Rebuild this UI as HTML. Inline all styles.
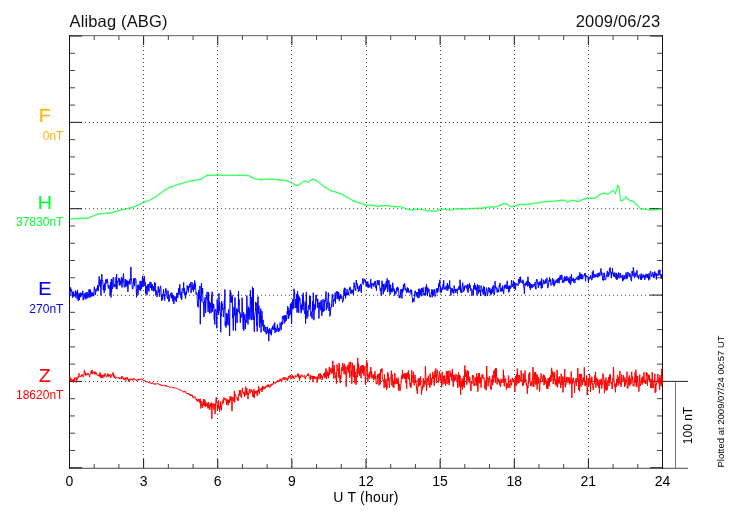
<!DOCTYPE html><html><head><meta charset="utf-8"><title>Alibag (ABG) 2009/06/23</title>
<style>html,body{margin:0;padding:0;background:#fff;}svg{display:block;}text{font-family:"Liberation Sans",Arial,Helvetica,sans-serif;}</style></head><body>
<svg width="730" height="520" viewBox="0 0 730 520">
<rect width="730" height="520" fill="#fff"/>
<g stroke="#444" stroke-width="1" stroke-dasharray="1 3" stroke-dashoffset="0"><line x1="69" y1="122.50" x2="662" y2="122.50"/><line x1="69" y1="208.70" x2="662" y2="208.70"/><line x1="69" y1="295.30" x2="662" y2="295.30"/><line x1="69" y1="381.50" x2="662" y2="381.50"/><line x1="143.50" y1="38" x2="143.50" y2="468"/><line x1="217.50" y1="38" x2="217.50" y2="468"/><line x1="291.50" y1="38" x2="291.50" y2="468"/><line x1="366.50" y1="38" x2="366.50" y2="468"/><line x1="440.50" y1="38" x2="440.50" y2="468"/><line x1="514.50" y1="38" x2="514.50" y2="468"/><line x1="588.50" y1="38" x2="588.50" y2="468"/></g>
<line x1="69" y1="35.5" x2="663" y2="35.5" stroke="#777" stroke-width="1"/>
<line x1="69" y1="36.5" x2="663" y2="36.5" stroke="#e4e4e4" stroke-width="1"/>
<line x1="69" y1="467.5" x2="688" y2="467.5" stroke="#d4d4d4" stroke-width="1"/>
<line x1="69" y1="468.5" x2="688" y2="468.5" stroke="#707070" stroke-width="1"/>
<g stroke="#111" stroke-width="1" fill="none">
<line x1="69.5" y1="35" x2="69.5" y2="469"/>
<line x1="662.5" y1="35" x2="662.5" y2="469"/>
</g>
<g stroke="#444" stroke-width="1"><line x1="94.21" y1="36" x2="94.21" y2="40"/><line x1="94.21" y1="464" x2="94.21" y2="468"/><line x1="118.92" y1="36" x2="118.92" y2="40"/><line x1="118.92" y1="464" x2="118.92" y2="468"/><line x1="168.33" y1="36" x2="168.33" y2="40"/><line x1="168.33" y1="464" x2="168.33" y2="468"/><line x1="193.04" y1="36" x2="193.04" y2="40"/><line x1="193.04" y1="464" x2="193.04" y2="468"/><line x1="242.46" y1="36" x2="242.46" y2="40"/><line x1="242.46" y1="464" x2="242.46" y2="468"/><line x1="267.17" y1="36" x2="267.17" y2="40"/><line x1="267.17" y1="464" x2="267.17" y2="468"/><line x1="316.58" y1="36" x2="316.58" y2="40"/><line x1="316.58" y1="464" x2="316.58" y2="468"/><line x1="341.29" y1="36" x2="341.29" y2="40"/><line x1="341.29" y1="464" x2="341.29" y2="468"/><line x1="390.71" y1="36" x2="390.71" y2="40"/><line x1="390.71" y1="464" x2="390.71" y2="468"/><line x1="415.42" y1="36" x2="415.42" y2="40"/><line x1="415.42" y1="464" x2="415.42" y2="468"/><line x1="464.83" y1="36" x2="464.83" y2="40"/><line x1="464.83" y1="464" x2="464.83" y2="468"/><line x1="489.54" y1="36" x2="489.54" y2="40"/><line x1="489.54" y1="464" x2="489.54" y2="468"/><line x1="538.96" y1="36" x2="538.96" y2="40"/><line x1="538.96" y1="464" x2="538.96" y2="468"/><line x1="563.67" y1="36" x2="563.67" y2="40"/><line x1="563.67" y1="464" x2="563.67" y2="468"/><line x1="613.08" y1="36" x2="613.08" y2="40"/><line x1="613.08" y1="464" x2="613.08" y2="468"/><line x1="637.79" y1="36" x2="637.79" y2="40"/><line x1="637.79" y1="464" x2="637.79" y2="468"/><line x1="70" y1="53.27" x2="75" y2="53.27"/><line x1="657" y1="53.27" x2="662" y2="53.27"/><line x1="70" y1="70.54" x2="75" y2="70.54"/><line x1="657" y1="70.54" x2="662" y2="70.54"/><line x1="70" y1="87.81" x2="75" y2="87.81"/><line x1="657" y1="87.81" x2="662" y2="87.81"/><line x1="70" y1="105.08" x2="75" y2="105.08"/><line x1="657" y1="105.08" x2="662" y2="105.08"/><line x1="70" y1="139.62" x2="75" y2="139.62"/><line x1="657" y1="139.62" x2="662" y2="139.62"/><line x1="70" y1="156.89" x2="75" y2="156.89"/><line x1="657" y1="156.89" x2="662" y2="156.89"/><line x1="70" y1="174.16" x2="75" y2="174.16"/><line x1="657" y1="174.16" x2="662" y2="174.16"/><line x1="70" y1="191.43" x2="75" y2="191.43"/><line x1="657" y1="191.43" x2="662" y2="191.43"/><line x1="70" y1="225.97" x2="75" y2="225.97"/><line x1="657" y1="225.97" x2="662" y2="225.97"/><line x1="70" y1="243.24" x2="75" y2="243.24"/><line x1="657" y1="243.24" x2="662" y2="243.24"/><line x1="70" y1="260.51" x2="75" y2="260.51"/><line x1="657" y1="260.51" x2="662" y2="260.51"/><line x1="70" y1="277.78" x2="75" y2="277.78"/><line x1="657" y1="277.78" x2="662" y2="277.78"/><line x1="70" y1="312.32" x2="75" y2="312.32"/><line x1="657" y1="312.32" x2="662" y2="312.32"/><line x1="70" y1="329.59" x2="75" y2="329.59"/><line x1="657" y1="329.59" x2="662" y2="329.59"/><line x1="70" y1="346.86" x2="75" y2="346.86"/><line x1="657" y1="346.86" x2="662" y2="346.86"/><line x1="70" y1="364.13" x2="75" y2="364.13"/><line x1="657" y1="364.13" x2="662" y2="364.13"/><line x1="70" y1="398.67" x2="75" y2="398.67"/><line x1="657" y1="398.67" x2="662" y2="398.67"/><line x1="70" y1="415.94" x2="75" y2="415.94"/><line x1="657" y1="415.94" x2="662" y2="415.94"/><line x1="70" y1="433.21" x2="75" y2="433.21"/><line x1="657" y1="433.21" x2="662" y2="433.21"/><line x1="70" y1="450.48" x2="75" y2="450.48"/><line x1="657" y1="450.48" x2="662" y2="450.48"/></g>
<g stroke="#1a1a1a" stroke-width="1"><line x1="143.62" y1="36" x2="143.62" y2="45"/><line x1="143.62" y1="459" x2="143.62" y2="468"/><line x1="217.75" y1="36" x2="217.75" y2="45"/><line x1="217.75" y1="459" x2="217.75" y2="468"/><line x1="291.88" y1="36" x2="291.88" y2="45"/><line x1="291.88" y1="459" x2="291.88" y2="468"/><line x1="366.00" y1="36" x2="366.00" y2="45"/><line x1="366.00" y1="459" x2="366.00" y2="468"/><line x1="440.12" y1="36" x2="440.12" y2="45"/><line x1="440.12" y1="459" x2="440.12" y2="468"/><line x1="514.25" y1="36" x2="514.25" y2="45"/><line x1="514.25" y1="459" x2="514.25" y2="468"/><line x1="588.38" y1="36" x2="588.38" y2="45"/><line x1="588.38" y1="459" x2="588.38" y2="468"/><line x1="70" y1="36.00" x2="82" y2="36.00"/><line x1="650" y1="36.00" x2="662" y2="36.00"/><line x1="70" y1="122.35" x2="82" y2="122.35"/><line x1="650" y1="122.35" x2="662" y2="122.35"/><line x1="70" y1="208.70" x2="82" y2="208.70"/><line x1="650" y1="208.70" x2="662" y2="208.70"/><line x1="70" y1="295.05" x2="82" y2="295.05"/><line x1="650" y1="295.05" x2="662" y2="295.05"/><line x1="70" y1="381.40" x2="82" y2="381.40"/><line x1="650" y1="381.40" x2="662" y2="381.40"/><line x1="70" y1="467.75" x2="82" y2="467.75"/><line x1="650" y1="467.75" x2="662" y2="467.75"/></g>
<line x1="663" y1="381.4" x2="688" y2="381.4" stroke="#222" stroke-width="1"/>
<line x1="675.5" y1="381.5" x2="675.5" y2="468" stroke="#777" stroke-width="1"/>
<polyline fill="none" stroke="#00ff30" stroke-opacity="0.75" stroke-width="1.25" stroke-linejoin="round" points="69.50,218.90 69.80,218.94 70.09,218.84 70.39,218.74 70.69,218.79 70.98,218.70 71.28,218.85 71.58,219.03 71.87,218.75 72.17,218.72 72.47,218.88 72.76,218.85 73.06,218.80 73.36,218.63 73.65,218.76 73.95,218.86 74.24,218.54 74.54,218.67 74.84,218.44 75.13,218.52 75.43,218.43 75.73,218.66 76.02,218.50 76.32,218.72 76.62,218.69 76.91,218.63 77.21,218.27 77.51,218.56 77.80,218.62 78.10,218.64 78.40,218.38 78.69,218.53 78.99,218.43 79.29,218.44 79.58,218.70 79.88,218.40 80.18,218.50 80.47,218.61 80.77,218.37 81.07,218.43 81.36,218.44 81.66,218.41 81.96,218.20 82.25,218.37 82.55,218.55 82.84,218.09 83.14,218.43 83.44,218.30 83.73,218.17 84.03,218.54 84.33,218.34 84.62,218.03 84.92,218.20 85.22,218.25 85.51,218.12 85.81,218.23 86.11,218.10 86.40,218.19 86.70,218.28 87.00,217.95 87.29,218.06 87.59,217.94 87.89,218.01 88.18,217.79 88.48,217.86 88.78,217.90 89.07,218.04 89.37,217.97 89.67,217.42 89.96,217.32 90.26,217.35 90.55,216.77 90.85,216.82 91.15,216.73 91.44,216.81 91.74,216.61 92.04,216.34 92.33,216.21 92.63,216.11 92.93,216.26 93.22,215.85 93.52,215.75 93.82,215.73 94.11,215.54 94.41,215.41 94.71,215.15 95.00,215.20 95.30,215.01 95.60,215.14 95.89,214.94 96.19,214.72 96.49,214.71 96.78,214.49 97.08,214.64 97.38,214.42 97.67,214.44 97.97,214.10 98.27,214.28 98.56,213.92 98.86,213.80 99.15,214.00 99.45,213.85 99.75,213.95 100.04,214.20 100.34,213.68 100.64,213.64 100.93,213.71 101.23,213.69 101.53,213.56 101.82,213.54 102.12,213.66 102.42,213.62 102.71,213.37 103.01,213.50 103.31,213.50 103.60,213.32 103.90,213.50 104.20,213.32 104.49,213.58 104.79,213.44 105.09,213.41 105.38,213.29 105.68,213.35 105.98,213.05 106.27,213.17 106.57,213.37 106.87,212.98 107.16,213.41 107.46,213.01 107.75,213.37 108.05,213.11 108.35,213.34 108.64,213.23 108.94,212.94 109.24,213.30 109.53,213.27 109.83,212.99 110.13,212.90 110.42,212.86 110.72,212.68 111.02,212.93 111.31,212.63 111.61,212.64 111.91,212.47 112.20,212.44 112.50,212.29 112.80,212.61 113.09,212.32 113.39,212.39 113.69,212.15 113.98,211.95 114.28,211.91 114.58,211.78 114.87,211.77 115.17,211.62 115.46,211.54 115.76,211.28 116.06,211.27 116.35,211.55 116.65,211.10 116.95,210.95 117.24,211.07 117.54,211.13 117.84,210.61 118.13,210.70 118.43,210.54 118.73,210.28 119.02,210.56 119.32,210.35 119.62,210.27 119.91,210.06 120.21,210.19 120.51,209.98 120.80,209.98 121.10,209.77 121.40,209.70 121.69,210.02 121.99,209.69 122.29,209.75 122.58,209.64 122.88,209.52 123.18,209.45 123.47,209.56 123.77,209.36 124.06,209.32 124.36,209.29 124.66,209.40 124.95,209.27 125.25,209.17 125.55,208.96 125.84,208.76 126.14,209.04 126.44,208.98 126.73,208.74 127.03,208.77 127.33,208.74 127.62,208.68 127.92,208.62 128.22,208.35 128.51,208.57 128.81,208.09 129.11,208.33 129.40,208.21 129.70,208.20 130.00,208.28 130.29,208.15 130.59,207.68 130.89,207.53 131.18,207.84 131.48,207.49 131.78,207.57 132.07,207.63 132.37,207.15 132.66,206.97 132.96,207.21 133.26,207.06 133.55,206.91 133.85,206.84 134.15,206.59 134.44,206.38 134.74,206.47 135.04,206.23 135.33,206.02 135.63,206.23 135.93,206.03 136.22,205.99 136.52,205.66 136.82,205.60 137.11,205.44 137.41,205.34 137.71,205.37 138.00,205.06 138.30,205.07 138.60,204.91 138.89,205.00 139.19,204.32 139.49,204.50 139.78,204.20 140.08,204.05 140.38,203.67 140.67,203.66 140.97,203.67 141.26,203.39 141.56,203.25 141.86,203.03 142.15,203.09 142.45,202.75 142.75,202.26 143.04,202.33 143.34,202.04 143.64,201.77 143.93,202.10 144.23,202.30 144.53,202.02 144.82,201.76 145.12,201.72 145.42,201.95 145.71,201.72 146.01,201.63 146.31,201.53 146.60,201.47 146.90,201.50 147.20,201.38 147.49,201.19 147.79,200.85 148.09,200.94 148.38,200.62 148.68,200.74 148.97,200.24 149.27,200.26 149.57,200.14 149.86,199.79 150.16,200.10 150.46,199.92 150.75,199.49 151.05,199.53 151.35,199.32 151.64,198.73 151.94,199.01 152.24,198.82 152.53,198.69 152.83,198.35 153.13,198.27 153.42,198.08 153.72,198.09 154.02,197.76 154.31,197.51 154.61,197.54 154.91,197.02 155.20,196.85 155.50,196.43 155.80,196.74 156.09,196.45 156.39,196.24 156.69,196.00 156.98,195.72 157.28,195.54 157.57,195.26 157.87,195.07 158.17,194.91 158.46,194.93 158.76,194.58 159.06,194.29 159.35,194.01 159.65,193.80 159.95,193.92 160.24,193.54 160.54,193.26 160.84,192.99 161.13,192.66 161.43,192.61 161.73,192.54 162.02,192.13 162.32,191.95 162.62,191.73 162.91,191.57 163.21,191.10 163.51,191.09 163.80,190.79 164.10,190.84 164.40,190.38 164.69,190.37 164.99,190.30 165.29,189.81 165.58,189.57 165.88,189.54 166.17,189.36 166.47,189.06 166.77,189.12 167.06,189.21 167.36,188.71 167.66,188.57 167.95,188.29 168.25,188.35 168.55,187.96 168.84,187.83 169.14,188.04 169.44,187.56 169.73,187.71 170.03,187.62 170.33,187.28 170.62,187.17 170.92,187.23 171.22,186.80 171.51,186.64 171.81,186.42 172.11,186.53 172.40,186.65 172.70,186.47 173.00,186.08 173.29,186.00 173.59,185.95 173.88,185.97 174.18,185.79 174.48,185.76 174.77,185.67 175.07,185.48 175.37,185.42 175.66,185.35 175.96,185.21 176.26,185.20 176.55,185.30 176.85,185.01 177.15,184.83 177.44,184.47 177.74,184.68 178.04,184.24 178.33,184.23 178.63,184.48 178.93,184.36 179.22,184.14 179.52,183.82 179.82,183.93 180.11,183.79 180.41,183.90 180.71,184.05 181.00,183.66 181.30,183.42 181.60,183.27 181.89,183.35 182.19,183.24 182.48,183.00 182.78,183.10 183.08,182.82 183.37,183.07 183.67,182.97 183.97,182.89 184.26,182.56 184.56,182.62 184.86,182.44 185.15,182.33 185.45,182.26 185.75,182.04 186.04,181.95 186.34,182.21 186.64,181.99 186.93,181.97 187.23,182.02 187.53,181.53 187.82,181.60 188.12,181.67 188.42,181.63 188.71,181.44 189.01,181.58 189.31,181.38 189.60,181.09 189.90,181.06 190.20,181.25 190.49,181.12 190.79,180.69 191.08,181.11 191.38,180.92 191.68,180.98 191.97,180.68 192.27,180.66 192.57,180.50 192.86,181.01 193.16,180.56 193.46,180.79 193.75,180.42 194.05,180.50 194.35,180.19 194.64,180.34 194.94,180.51 195.24,180.14 195.53,180.45 195.83,180.30 196.13,180.05 196.42,180.10 196.72,180.07 197.02,180.09 197.31,179.94 197.61,179.83 197.91,179.83 198.20,179.65 198.50,179.54 198.80,179.65 199.09,179.72 199.39,179.29 199.68,179.45 199.98,179.28 200.28,179.15 200.57,179.36 200.87,179.08 201.17,179.28 201.46,178.74 201.76,178.72 202.06,178.43 202.35,178.15 202.65,178.15 202.95,177.85 203.24,177.76 203.54,177.47 203.84,177.12 204.13,177.10 204.43,176.97 204.73,176.94 205.02,176.50 205.32,176.47 205.62,176.06 205.91,176.25 206.21,175.83 206.51,175.56 206.80,175.66 207.10,175.68 207.39,175.17 207.69,175.23 207.99,175.27 208.28,175.20 208.58,175.42 208.88,175.23 209.17,175.24 209.47,175.42 209.77,175.21 210.06,175.38 210.36,175.16 210.66,175.12 210.95,175.02 211.25,175.56 211.55,175.23 211.84,175.30 212.14,175.25 212.44,175.27 212.73,175.25 213.03,175.52 213.33,175.07 213.62,174.98 213.92,175.05 214.22,175.00 214.51,175.30 214.81,175.30 215.11,175.03 215.40,174.95 215.70,175.10 215.99,175.35 216.29,174.71 216.59,175.21 216.88,174.96 217.18,175.27 217.48,174.94 217.77,175.07 218.07,174.89 218.37,174.98 218.66,175.35 218.96,175.28 219.26,175.10 219.55,175.04 219.85,174.90 220.15,175.14 220.44,175.20 220.74,175.20 221.04,175.21 221.33,175.07 221.63,175.24 221.93,175.25 222.22,175.46 222.52,175.56 222.82,175.27 223.11,175.19 223.41,175.30 223.71,175.23 224.00,175.22 224.30,175.34 224.59,175.20 224.89,175.46 225.19,175.36 225.48,175.43 225.78,175.37 226.08,175.29 226.37,175.26 226.67,175.36 226.97,175.32 227.26,175.44 227.56,175.40 227.86,175.20 228.15,175.41 228.45,175.20 228.75,175.31 229.04,175.36 229.34,175.09 229.64,175.41 229.93,175.42 230.23,175.38 230.53,175.34 230.82,175.34 231.12,175.25 231.42,175.36 231.71,175.31 232.01,175.41 232.31,175.21 232.60,175.42 232.90,175.41 233.19,175.36 233.49,175.31 233.79,175.46 234.08,175.12 234.38,175.44 234.68,175.40 234.97,175.41 235.27,175.42 235.57,175.26 235.86,175.32 236.16,175.45 236.46,175.42 236.75,175.38 237.05,175.12 237.35,175.42 237.64,175.52 237.94,175.49 238.24,175.37 238.53,175.10 238.83,175.47 239.13,175.31 239.42,174.95 239.72,175.38 240.02,175.10 240.31,175.12 240.61,175.22 240.90,175.50 241.20,175.25 241.50,175.35 241.79,175.57 242.09,175.54 242.39,175.29 242.68,175.27 242.98,175.13 243.28,175.22 243.57,175.39 243.87,175.39 244.17,175.35 244.46,175.49 244.76,175.23 245.06,175.34 245.35,175.47 245.65,175.45 245.95,175.53 246.24,175.43 246.54,175.33 246.84,175.44 247.13,175.24 247.43,175.15 247.73,175.50 248.02,175.54 248.32,175.74 248.62,175.58 248.91,175.92 249.21,176.02 249.50,176.12 249.80,176.06 250.10,176.48 250.39,176.81 250.69,176.87 250.99,176.86 251.28,177.09 251.58,177.35 251.88,176.96 252.17,177.50 252.47,177.74 252.77,177.90 253.06,178.19 253.36,178.21 253.66,178.17 253.95,178.25 254.25,178.40 254.55,178.28 254.84,178.43 255.14,178.66 255.44,178.89 255.73,178.66 256.03,178.75 256.33,178.87 256.62,179.12 256.92,178.99 257.22,179.30 257.51,179.00 257.81,179.18 258.10,179.25 258.40,179.46 258.70,179.56 258.99,179.24 259.29,179.40 259.59,179.65 259.88,179.57 260.18,179.50 260.48,179.95 260.77,179.84 261.07,179.80 261.37,179.62 261.66,179.81 261.96,179.58 262.26,179.74 262.55,179.40 262.85,179.37 263.15,179.49 263.44,179.32 263.74,179.49 264.04,179.39 264.33,179.17 264.63,179.29 264.93,179.18 265.22,179.34 265.52,179.07 265.81,179.06 266.11,179.28 266.41,179.44 266.70,179.41 267.00,179.12 267.30,179.15 267.59,179.35 267.89,179.10 268.19,178.98 268.48,179.15 268.78,179.20 269.08,179.01 269.37,178.89 269.67,178.93 269.97,179.25 270.26,179.04 270.56,179.13 270.86,179.19 271.15,179.26 271.45,179.12 271.75,179.24 272.04,179.04 272.34,179.12 272.64,179.03 272.93,179.35 273.23,179.18 273.53,179.08 273.82,179.14 274.12,179.17 274.41,179.33 274.71,179.02 275.01,179.14 275.30,179.27 275.60,179.74 275.90,179.54 276.19,179.41 276.49,179.57 276.79,179.81 277.08,179.50 277.38,179.51 277.68,179.78 277.97,179.71 278.27,179.77 278.57,179.62 278.86,180.02 279.16,180.02 279.46,179.89 279.75,179.94 280.05,179.57 280.35,180.00 280.64,179.91 280.94,180.04 281.24,180.11 281.53,179.99 281.83,179.82 282.13,180.16 282.42,180.03 282.72,180.13 283.01,180.12 283.31,180.19 283.61,179.93 283.90,180.51 284.20,180.43 284.50,180.63 284.79,180.82 285.09,180.60 285.39,180.39 285.68,180.60 285.98,180.62 286.28,180.79 286.57,180.95 286.87,180.70 287.17,181.12 287.46,180.91 287.76,181.25 288.06,181.26 288.35,181.30 288.65,181.41 288.95,181.44 289.24,181.54 289.54,181.48 289.84,181.83 290.13,182.22 290.43,182.35 290.73,182.35 291.02,182.37 291.32,182.26 291.61,182.69 291.91,182.65 292.21,182.87 292.50,183.06 292.80,183.35 293.10,183.49 293.39,183.77 293.69,183.84 293.99,184.17 294.28,184.80 294.58,184.67 294.88,184.87 295.17,185.21 295.47,185.41 295.77,185.13 296.06,185.27 296.36,185.44 296.66,185.34 296.95,185.32 297.25,185.53 297.55,185.20 297.84,185.31 298.14,185.22 298.44,185.52 298.73,185.01 299.03,185.00 299.32,184.77 299.62,184.70 299.92,184.44 300.21,184.30 300.51,183.60 300.81,183.70 301.10,183.29 301.40,182.98 301.70,182.91 301.99,182.43 302.29,182.01 302.59,182.01 302.88,181.59 303.18,181.46 303.48,181.36 303.77,181.25 304.07,181.44 304.37,181.17 304.66,180.97 304.96,181.09 305.26,181.06 305.55,181.02 305.85,181.27 306.15,181.10 306.44,180.90 306.74,181.30 307.04,181.18 307.33,181.49 307.63,181.74 307.92,182.12 308.22,182.33 308.52,182.54 308.81,182.06 309.11,181.70 309.41,181.34 309.70,180.70 310.00,180.67 310.30,180.51 310.59,180.43 310.89,180.05 311.19,180.35 311.48,179.97 311.78,179.63 312.08,179.41 312.37,179.47 312.67,179.35 312.97,179.11 313.26,179.14 313.56,179.16 313.86,179.46 314.15,179.40 314.45,179.63 314.75,179.91 315.04,180.28 315.34,179.87 315.64,180.07 315.93,180.14 316.23,180.59 316.52,180.52 316.82,180.84 317.12,181.13 317.41,181.21 317.71,181.44 318.01,181.73 318.30,181.71 318.60,182.03 318.90,182.41 319.19,182.72 319.49,182.89 319.79,182.87 320.08,183.29 320.38,183.70 320.68,183.89 320.97,184.02 321.27,184.12 321.57,184.58 321.86,184.62 322.16,184.76 322.46,185.04 322.75,185.60 323.05,185.64 323.35,186.01 323.64,185.99 323.94,186.42 324.23,186.42 324.53,186.71 324.83,187.33 325.12,187.30 325.42,187.33 325.72,187.62 326.01,187.91 326.31,188.24 326.61,188.15 326.90,188.12 327.20,188.50 327.50,188.71 327.79,188.89 328.09,189.23 328.39,189.24 328.68,189.48 328.98,189.35 329.28,189.81 329.57,190.15 329.87,190.12 330.17,190.20 330.46,190.35 330.76,190.75 331.06,190.51 331.35,190.79 331.65,191.04 331.95,191.17 332.24,191.07 332.54,191.26 332.83,191.25 333.13,191.38 333.43,191.42 333.72,191.34 334.02,191.59 334.32,191.80 334.61,191.60 334.91,191.78 335.21,191.99 335.50,191.81 335.80,192.07 336.10,191.96 336.39,192.36 336.69,192.62 336.99,192.65 337.28,192.39 337.58,192.64 337.88,192.64 338.17,192.74 338.47,193.06 338.77,192.72 339.06,193.18 339.36,193.11 339.66,193.43 339.95,193.35 340.25,193.32 340.55,193.56 340.84,193.72 341.14,193.72 341.43,193.88 341.73,193.83 342.03,193.70 342.32,194.34 342.62,194.50 342.92,194.60 343.21,194.77 343.51,195.11 343.81,195.07 344.10,195.22 344.40,195.48 344.70,195.87 344.99,195.67 345.29,196.25 345.59,196.16 345.88,196.28 346.18,196.82 346.48,196.80 346.77,196.81 347.07,197.13 347.37,197.51 347.66,197.74 347.96,197.68 348.26,197.99 348.55,198.19 348.85,198.14 349.15,198.45 349.44,198.55 349.74,198.63 350.03,198.79 350.33,199.03 350.63,199.18 350.92,199.25 351.22,199.42 351.52,199.81 351.81,199.83 352.11,200.09 352.41,200.29 352.70,200.35 353.00,200.76 353.30,200.45 353.59,200.86 353.89,200.84 354.19,201.31 354.48,201.39 354.78,200.95 355.08,201.21 355.37,201.56 355.67,201.69 355.97,201.79 356.26,201.78 356.56,201.96 356.86,202.10 357.15,202.10 357.45,202.37 357.74,201.99 358.04,202.53 358.34,202.39 358.63,202.79 358.93,202.72 359.23,202.73 359.52,203.03 359.82,202.93 360.12,203.02 360.41,203.02 360.71,203.34 361.01,203.51 361.30,203.68 361.60,203.60 361.90,203.87 362.19,203.80 362.49,203.88 362.79,204.07 363.08,204.23 363.38,204.12 363.68,204.22 363.97,204.33 364.27,204.45 364.57,204.40 364.86,204.78 365.16,204.66 365.46,204.88 365.75,204.78 366.05,205.05 366.34,205.14 366.64,205.05 366.94,205.43 367.23,205.20 367.53,205.43 367.83,205.32 368.12,205.09 368.42,205.15 368.72,205.29 369.01,205.25 369.31,205.26 369.61,205.23 369.90,205.01 370.20,205.27 370.50,204.98 370.79,205.39 371.09,205.24 371.39,205.26 371.68,205.35 371.98,205.43 372.28,205.19 372.57,205.16 372.87,205.28 373.17,205.15 373.46,205.33 373.76,205.73 374.06,205.36 374.35,205.70 374.65,205.48 374.94,205.82 375.24,205.82 375.54,205.94 375.83,206.12 376.13,206.39 376.43,206.24 376.72,206.32 377.02,206.24 377.32,206.56 377.61,206.52 377.91,206.77 378.21,206.65 378.50,206.78 378.80,206.09 379.10,206.21 379.39,206.25 379.69,205.93 379.99,205.73 380.28,205.76 380.58,205.59 380.88,205.82 381.17,206.17 381.47,205.97 381.77,205.63 382.06,205.67 382.36,205.74 382.65,205.95 382.95,205.68 383.25,205.70 383.54,205.93 383.84,205.93 384.14,205.74 384.43,205.63 384.73,205.57 385.03,205.70 385.32,205.47 385.62,205.91 385.92,205.71 386.21,205.87 386.51,206.08 386.81,205.98 387.10,205.63 387.40,205.93 387.70,205.97 387.99,205.69 388.29,205.66 388.59,205.78 388.88,205.56 389.18,206.02 389.48,205.44 389.77,205.66 390.07,205.92 390.37,206.05 390.66,206.24 390.96,206.38 391.25,206.43 391.55,206.76 391.85,206.38 392.14,206.70 392.44,206.59 392.74,206.72 393.03,206.73 393.33,206.56 393.63,206.60 393.92,206.82 394.22,206.75 394.52,206.60 394.81,207.01 395.11,207.05 395.41,206.48 395.70,206.75 396.00,207.08 396.30,206.82 396.59,206.73 396.89,206.67 397.19,206.62 397.48,206.67 397.78,206.62 398.08,206.81 398.37,206.64 398.67,206.63 398.97,206.52 399.26,206.69 399.56,206.57 399.85,206.67 400.15,206.86 400.45,206.75 400.74,206.78 401.04,206.75 401.34,206.71 401.63,206.79 401.93,206.91 402.23,207.21 402.52,207.08 402.82,207.58 403.12,207.53 403.41,207.55 403.71,207.73 404.01,207.85 404.30,208.12 404.60,208.13 404.90,208.55 405.19,208.40 405.49,208.32 405.79,208.69 406.08,208.64 406.38,209.03 406.68,209.25 406.97,209.24 407.27,209.00 407.57,209.14 407.86,209.58 408.16,209.41 408.45,209.42 408.75,209.64 409.05,209.90 409.34,209.78 409.64,209.67 409.94,209.75 410.23,209.85 410.53,209.72 410.83,209.71 411.12,209.89 411.42,209.70 411.72,209.79 412.01,209.77 412.31,210.06 412.61,209.54 412.90,209.60 413.20,209.55 413.50,209.60 413.79,209.65 414.09,209.38 414.39,209.28 414.68,209.12 414.98,209.18 415.28,209.36 415.57,209.24 415.87,209.05 416.16,209.17 416.46,209.24 416.76,209.33 417.05,209.18 417.35,209.25 417.65,209.04 417.94,209.15 418.24,209.59 418.54,209.03 418.83,209.33 419.13,209.43 419.43,209.36 419.72,209.31 420.02,209.44 420.32,209.46 420.61,209.47 420.91,209.22 421.21,209.50 421.50,209.41 421.80,209.47 422.10,209.60 422.39,209.68 422.69,209.75 422.99,209.61 423.28,209.89 423.58,210.00 423.88,210.06 424.17,210.16 424.47,210.00 424.76,210.06 425.06,210.28 425.36,210.02 425.65,210.32 425.95,210.28 426.25,210.37 426.54,210.23 426.84,210.42 427.14,210.62 427.43,210.82 427.73,210.91 428.03,210.81 428.32,210.86 428.62,210.83 428.92,211.06 429.21,210.97 429.51,211.11 429.81,211.29 430.10,211.03 430.40,210.82 430.70,210.92 430.99,210.84 431.29,210.89 431.59,211.27 431.88,211.12 432.18,210.86 432.48,211.20 432.77,211.29 433.07,211.06 433.36,211.02 433.66,211.08 433.96,211.18 434.25,211.24 434.55,211.33 434.85,211.34 435.14,211.35 435.44,211.38 435.74,211.28 436.03,210.96 436.33,211.17 436.63,211.08 436.92,210.83 437.22,210.88 437.52,210.54 437.81,210.30 438.11,210.51 438.41,210.25 438.70,210.03 439.00,209.99 439.30,209.86 439.59,209.61 439.89,209.12 440.19,209.38 440.48,209.39 440.78,209.30 441.07,209.46 441.37,209.60 441.67,209.33 441.96,209.22 442.26,209.68 442.56,209.29 442.85,209.16 443.15,209.37 443.45,209.38 443.74,209.20 444.04,209.41 444.34,209.20 444.63,209.12 444.93,209.27 445.23,209.35 445.52,209.12 445.82,209.25 446.12,209.24 446.41,209.74 446.71,209.28 447.01,209.66 447.30,209.52 447.60,209.57 447.90,209.77 448.19,209.86 448.49,209.99 448.79,209.92 449.08,209.84 449.38,209.92 449.67,210.15 449.97,210.14 450.27,210.18 450.56,209.96 450.86,209.97 451.16,209.96 451.45,209.68 451.75,209.35 452.05,209.31 452.34,209.20 452.64,209.57 452.94,209.12 453.23,209.35 453.53,209.18 453.83,209.27 454.12,209.08 454.42,208.83 454.72,208.77 455.01,208.82 455.31,208.84 455.61,208.74 455.90,208.82 456.20,209.07 456.50,208.58 456.79,208.87 457.09,208.70 457.39,208.87 457.68,208.98 457.98,208.85 458.27,208.98 458.57,208.63 458.87,209.04 459.16,208.78 459.46,208.97 459.76,208.91 460.05,208.50 460.35,208.78 460.65,208.93 460.94,209.14 461.24,208.95 461.54,208.95 461.83,208.71 462.13,209.14 462.43,209.20 462.72,208.94 463.02,208.90 463.32,208.70 463.61,209.08 463.91,209.36 464.21,209.06 464.50,209.15 464.80,209.05 465.10,208.82 465.39,209.18 465.69,208.80 465.99,208.95 466.28,209.03 466.58,209.13 466.87,209.06 467.17,209.03 467.47,208.83 467.76,208.73 468.06,208.90 468.36,208.76 468.65,208.64 468.95,208.62 469.25,208.71 469.54,208.48 469.84,208.53 470.14,208.46 470.43,208.71 470.73,208.71 471.03,208.93 471.32,208.37 471.62,208.47 471.92,208.68 472.21,208.48 472.51,208.45 472.81,208.74 473.10,208.43 473.40,208.30 473.70,208.26 473.99,208.50 474.29,208.49 474.58,208.23 474.88,208.27 475.18,208.49 475.47,208.49 475.77,208.30 476.07,208.48 476.36,208.46 476.66,208.10 476.96,208.31 477.25,208.41 477.55,208.25 477.85,208.01 478.14,208.28 478.44,208.42 478.74,208.54 479.03,207.96 479.33,208.68 479.63,208.11 479.92,208.41 480.22,208.44 480.52,208.39 480.81,208.26 481.11,208.05 481.41,208.31 481.70,208.10 482.00,207.82 482.30,208.54 482.59,208.13 482.89,208.21 483.18,207.71 483.48,207.98 483.78,207.91 484.07,207.82 484.37,207.49 484.67,207.23 484.96,207.36 485.26,207.04 485.56,207.10 485.85,207.35 486.15,207.17 486.45,207.28 486.74,207.27 487.04,207.56 487.34,207.44 487.63,207.23 487.93,207.40 488.23,207.08 488.52,207.13 488.82,207.30 489.12,206.96 489.41,207.09 489.71,206.92 490.01,207.12 490.30,207.33 490.60,206.95 490.90,207.08 491.19,206.90 491.49,206.84 491.78,206.81 492.08,207.20 492.38,207.32 492.67,207.02 492.97,206.82 493.27,207.02 493.56,206.85 493.86,207.00 494.16,206.91 494.45,206.89 494.75,206.92 495.05,206.72 495.34,206.73 495.64,206.52 495.94,206.69 496.23,206.53 496.53,206.71 496.83,206.57 497.12,206.65 497.42,206.56 497.72,206.13 498.01,206.07 498.31,205.90 498.61,206.01 498.90,206.01 499.20,205.73 499.49,205.40 499.79,205.52 500.09,204.95 500.38,205.28 500.68,204.83 500.98,204.39 501.27,205.08 501.57,204.80 501.87,204.28 502.16,204.34 502.46,204.16 502.76,204.08 503.05,203.72 503.35,203.72 503.65,203.77 503.94,203.61 504.24,203.63 504.54,203.34 504.83,203.75 505.13,203.41 505.43,203.68 505.72,203.47 506.02,203.70 506.32,204.21 506.61,203.99 506.91,204.33 507.21,204.36 507.50,204.34 507.80,204.56 508.09,204.68 508.39,204.86 508.69,205.22 508.98,205.37 509.28,205.36 509.58,205.49 509.87,205.84 510.17,205.96 510.47,206.30 510.76,206.72 511.06,206.62 511.36,206.66 511.65,206.81 511.95,206.88 512.25,206.90 512.54,206.74 512.84,206.70 513.14,206.55 513.43,206.59 513.73,206.28 514.03,206.18 514.32,205.89 514.62,206.18 514.92,205.87 515.21,205.96 515.51,205.71 515.81,205.71 516.10,205.35 516.40,205.40 516.69,205.59 516.99,204.90 517.29,205.16 517.58,205.14 517.88,204.85 518.18,204.80 518.47,204.77 518.77,204.38 519.07,204.46 519.36,204.27 519.66,204.30 519.96,204.31 520.25,204.38 520.55,204.42 520.85,204.47 521.14,204.18 521.44,204.70 521.74,204.58 522.03,204.51 522.33,204.35 522.63,204.39 522.92,204.48 523.22,204.46 523.52,204.14 523.81,204.51 524.11,204.85 524.41,204.12 524.70,204.55 525.00,204.46 525.29,204.38 525.59,204.61 525.89,204.22 526.18,204.43 526.48,204.63 526.78,204.37 527.07,204.34 527.37,204.42 527.67,204.33 527.96,204.64 528.26,204.26 528.56,204.53 528.85,204.14 529.15,204.36 529.45,204.16 529.74,203.70 530.04,204.01 530.34,203.77 530.63,203.79 530.93,204.01 531.23,203.52 531.52,203.45 531.82,203.76 532.12,203.47 532.41,203.62 532.71,203.35 533.00,203.15 533.30,203.26 533.60,203.44 533.89,203.38 534.19,203.22 534.49,203.21 534.78,203.17 535.08,203.08 535.38,203.45 535.67,203.14 535.97,202.95 536.27,203.03 536.56,203.20 536.86,203.17 537.16,203.04 537.45,202.94 537.75,203.03 538.05,202.75 538.34,202.77 538.64,203.04 538.94,202.78 539.23,202.86 539.53,202.93 539.83,202.78 540.12,202.63 540.42,202.90 540.72,202.61 541.01,202.40 541.31,202.51 541.60,202.40 541.90,202.15 542.20,202.23 542.49,202.14 542.79,201.82 543.09,202.05 543.38,201.99 543.68,201.92 543.98,201.69 544.27,201.84 544.57,201.84 544.87,201.82 545.16,201.58 545.46,201.81 545.76,201.47 546.05,201.58 546.35,201.77 546.65,201.42 546.94,201.42 547.24,201.65 547.54,201.41 547.83,201.41 548.13,201.48 548.43,201.59 548.72,201.08 549.02,201.28 549.32,201.24 549.61,201.21 549.91,201.23 550.20,201.22 550.50,201.39 550.80,201.19 551.09,201.33 551.39,201.36 551.69,201.18 551.98,201.29 552.28,201.51 552.58,201.30 552.87,201.14 553.17,201.21 553.47,201.07 553.76,201.23 554.06,201.28 554.36,200.99 554.65,201.04 554.95,201.21 555.25,200.92 555.54,200.98 555.84,200.76 556.14,200.75 556.43,200.76 556.73,201.13 557.03,200.70 557.32,200.64 557.62,200.60 557.92,200.62 558.21,200.70 558.51,200.59 558.80,200.83 559.10,200.52 559.40,200.66 559.69,200.45 559.99,200.46 560.29,200.11 560.58,200.28 560.88,200.29 561.18,200.26 561.47,199.98 561.77,200.43 562.07,200.24 562.36,200.23 562.66,200.26 562.96,200.27 563.25,200.36 563.55,200.11 563.85,200.16 564.14,200.34 564.44,200.32 564.74,200.24 565.03,200.21 565.33,200.17 565.63,200.29 565.92,200.71 566.22,200.69 566.51,201.38 566.81,201.59 567.11,201.71 567.40,202.21 567.70,202.18 568.00,201.98 568.29,201.89 568.59,201.87 568.89,201.73 569.18,201.54 569.48,201.48 569.78,200.99 570.07,201.23 570.37,200.79 570.67,200.74 570.96,200.62 571.26,200.36 571.56,200.17 571.85,200.17 572.15,200.37 572.45,200.51 572.74,200.55 573.04,200.37 573.34,200.44 573.63,200.47 573.93,200.72 574.23,200.40 574.52,200.95 574.82,200.74 575.11,200.75 575.41,200.98 575.71,201.14 576.00,201.09 576.30,201.25 576.60,201.17 576.89,201.39 577.19,201.44 577.49,201.30 577.78,201.58 578.08,201.45 578.38,201.49 578.67,201.28 578.97,201.24 579.27,201.26 579.56,200.81 579.86,200.97 580.16,200.78 580.45,200.63 580.75,200.12 581.05,200.30 581.34,200.28 581.64,199.93 581.94,199.92 582.23,199.41 582.53,199.73 582.83,199.39 583.12,199.54 583.42,199.06 583.71,199.36 584.01,199.14 584.31,199.22 584.60,198.88 584.90,198.84 585.20,199.19 585.49,198.65 585.79,198.59 586.09,198.57 586.38,198.38 586.68,198.63 586.98,198.63 587.27,198.19 587.57,197.96 587.87,198.31 588.16,198.27 588.46,198.24 588.76,198.30 589.05,198.00 589.35,198.11 589.65,197.94 589.94,197.94 590.24,198.31 590.54,198.07 590.83,198.52 591.13,198.20 591.42,198.10 591.72,198.33 592.02,198.48 592.31,198.30 592.61,198.05 592.91,198.30 593.20,198.46 593.50,198.18 593.80,198.15 594.09,198.43 594.39,198.30 594.69,198.13 594.98,198.24 595.28,197.98 595.58,197.92 595.87,197.68 596.17,197.62 596.47,197.34 596.76,196.78 597.06,196.86 597.36,196.72 597.65,196.43 597.95,196.30 598.25,195.85 598.54,195.57 598.84,195.64 599.14,195.12 599.43,194.74 599.73,195.01 600.02,194.60 600.32,194.55 600.62,194.27 600.91,194.16 601.21,194.07 601.51,194.07 601.80,194.06 602.10,193.54 602.40,193.88 602.69,193.48 602.99,193.38 603.29,193.52 603.58,193.29 603.88,192.95 604.18,193.34 604.47,192.82 604.77,193.00 605.07,193.10 605.36,193.39 605.66,193.22 605.96,193.54 606.25,193.39 606.55,193.78 606.85,193.60 607.14,193.77 607.44,194.22 607.74,194.09 608.03,194.02 608.33,194.13 608.62,193.64 608.92,193.25 609.22,193.28 609.51,192.78 609.81,192.92 610.11,192.72 610.40,192.25 610.70,192.06 611.00,192.00 611.29,191.79 611.59,191.46 611.89,191.51 612.18,190.93 612.48,190.99 612.78,190.81 613.07,190.65 613.37,190.55 613.67,190.14 613.96,190.98 614.26,191.52 614.56,192.12 614.85,192.67 615.15,193.36 615.45,193.98 615.74,192.64 616.04,191.66 616.34,190.68 616.63,189.53 616.93,188.48 617.22,187.06 617.52,185.81 617.82,185.09 618.11,185.65 618.41,186.44 618.71,186.94 619.00,187.81 619.30,190.10 619.60,192.41 619.89,194.72 620.19,197.04 620.49,199.35 620.78,201.00 621.08,200.99 621.38,200.64 621.67,200.85 621.97,200.45 622.27,200.49 622.56,200.20 622.86,200.05 623.16,200.27 623.45,199.67 623.75,199.16 624.05,198.88 624.34,198.57 624.64,198.58 624.93,197.92 625.23,197.66 625.53,197.01 625.82,196.85 626.12,197.09 626.42,197.65 626.71,197.67 627.01,198.25 627.31,198.60 627.60,198.79 627.90,199.33 628.20,199.60 628.49,199.41 628.79,199.98 629.09,200.09 629.38,200.07 629.68,200.05 629.98,200.60 630.27,200.54 630.57,200.77 630.87,200.96 631.16,200.76 631.46,201.04 631.76,200.95 632.05,201.05 632.35,201.12 632.65,201.21 632.94,201.45 633.24,201.38 633.53,201.41 633.83,201.50 634.13,201.95 634.42,202.12 634.72,202.54 635.02,202.96 635.31,203.24 635.61,203.67 635.91,203.95 636.20,204.70 636.50,204.78 636.80,204.83 637.09,204.93 637.39,205.44 637.69,205.34 637.98,205.63 638.28,206.05 638.58,206.41 638.87,206.94 639.17,207.08 639.47,207.76 639.76,207.67 640.06,208.27 640.36,208.37 640.65,208.99 640.95,208.70 641.25,208.78 641.54,208.96 641.84,209.04 642.13,208.72 642.43,208.87 642.73,208.74 643.02,209.01 643.32,209.01 643.62,209.00 643.91,208.99 644.21,209.06 644.51,209.04 644.80,209.27 645.10,209.46 645.40,208.98 645.69,209.30 645.99,209.30 646.29,209.48 646.58,209.31 646.88,209.47 647.18,209.38 647.47,209.69 647.77,209.64 648.07,209.65 648.36,209.77 648.66,209.72 648.96,209.57 649.25,209.94 649.55,209.94 649.84,209.87 650.14,210.04 650.44,210.07 650.73,209.72 651.03,209.76 651.33,210.11 651.62,210.08 651.92,209.76 652.22,209.68 652.51,209.76 652.81,209.78 653.11,209.61 653.40,209.85 653.70,209.65 654.00,209.65 654.29,209.97 654.59,209.72 654.89,209.81 655.18,209.91 655.48,209.94 655.78,209.76 656.07,209.81 656.37,209.68 656.67,210.00 656.96,209.77 657.26,209.44 657.56,209.54 657.85,209.58 658.15,209.47 658.44,209.61 658.74,209.47 659.04,209.12 659.33,209.12 659.63,208.87 659.93,209.03 660.22,208.95 660.52,209.27 660.82,208.81 661.11,208.41 661.41,208.56 661.71,208.61 662.00,208.33 662.30,208.37"/>
<polyline fill="none" stroke="#0000ff" stroke-width="1.0" points="69.50,290.06 69.80,296.48 70.09,292.75 70.39,290.62 70.69,287.47 70.98,291.73 71.28,289.64 71.58,289.70 71.87,292.16 72.17,294.00 72.47,292.43 72.76,297.72 73.06,291.50 73.36,291.89 73.65,296.28 73.95,296.00 74.24,296.21 74.54,294.80 74.84,294.98 75.13,292.78 75.43,290.50 75.73,297.56 76.02,292.32 76.32,292.75 76.62,293.98 76.91,291.58 77.21,299.35 77.51,289.87 77.80,292.97 78.10,296.19 78.40,300.76 78.69,297.08 78.99,293.66 79.29,299.94 79.58,293.46 79.88,294.58 80.18,297.41 80.47,292.87 80.77,292.73 81.07,295.62 81.36,294.71 81.66,296.39 81.96,292.86 82.25,294.86 82.55,292.13 82.84,290.88 83.14,300.14 83.44,297.05 83.73,298.39 84.03,293.72 84.33,296.88 84.62,296.55 84.92,293.30 85.22,299.35 85.51,296.75 85.81,297.27 86.11,292.23 86.40,298.57 86.70,297.83 87.00,296.08 87.29,292.21 87.59,293.32 87.89,298.15 88.18,294.58 88.48,295.63 88.78,293.64 89.07,289.27 89.37,297.03 89.67,289.90 89.96,297.69 90.26,296.09 90.55,289.66 90.85,294.51 91.15,296.65 91.44,296.16 91.74,292.45 92.04,294.39 92.33,295.62 92.63,292.52 92.93,296.35 93.22,293.51 93.52,293.69 93.82,295.72 94.11,288.00 94.41,286.78 94.71,289.40 95.00,290.33 95.30,294.77 95.60,292.81 95.89,289.10 96.19,291.21 96.49,291.42 96.78,290.88 97.08,287.73 97.38,289.86 97.67,285.01 97.97,288.42 98.27,291.14 98.56,285.82 98.86,284.50 99.15,276.45 99.45,285.32 99.75,282.47 100.04,285.06 100.34,287.11 100.64,279.73 100.93,295.42 101.23,285.98 101.53,284.15 101.82,274.04 102.12,280.80 102.42,280.70 102.71,280.35 103.01,284.58 103.31,290.06 103.60,285.72 103.90,284.72 104.20,292.98 104.49,287.50 104.79,283.35 105.09,290.36 105.38,281.23 105.68,279.57 105.98,281.28 106.27,279.77 106.57,283.36 106.87,283.23 107.16,278.79 107.46,279.48 107.75,283.32 108.05,286.35 108.35,288.48 108.64,288.37 108.94,285.07 109.24,287.17 109.53,286.79 109.83,289.49 110.13,295.01 110.42,282.20 110.72,288.18 111.02,297.44 111.31,279.16 111.61,292.06 111.91,279.55 112.20,286.27 112.50,289.04 112.80,286.91 113.09,277.82 113.39,277.14 113.69,277.61 113.98,286.89 114.28,284.25 114.58,286.57 114.87,287.19 115.17,286.85 115.46,286.21 115.76,283.72 116.06,276.96 116.35,288.87 116.65,274.03 116.95,289.25 117.24,281.70 117.54,282.43 117.84,280.89 118.13,280.69 118.43,281.32 118.73,280.52 119.02,277.93 119.32,285.13 119.62,278.79 119.91,285.42 120.21,281.20 120.51,280.76 120.80,284.38 121.10,284.30 121.40,276.91 121.69,280.14 121.99,287.52 122.29,278.47 122.58,279.04 122.88,282.50 123.18,276.92 123.47,273.50 123.77,278.18 124.06,286.32 124.36,287.36 124.66,287.05 124.95,285.79 125.25,279.07 125.55,285.77 125.84,287.11 126.14,279.81 126.44,285.66 126.73,280.10 127.03,282.57 127.33,285.82 127.62,281.21 127.92,291.88 128.22,281.54 128.51,283.27 128.81,281.02 129.11,283.63 129.40,282.03 129.70,279.30 130.00,284.67 130.29,280.51 130.59,277.12 130.89,266.94 131.18,277.14 131.48,280.03 131.78,281.80 132.07,283.91 132.37,288.87 132.66,288.69 132.96,289.11 133.26,284.71 133.55,278.81 133.85,283.81 134.15,278.20 134.44,286.10 134.74,283.77 135.04,278.02 135.33,278.76 135.63,279.03 135.93,279.14 136.22,288.42 136.52,297.39 136.82,289.63 137.11,289.78 137.41,286.40 137.71,285.21 138.00,294.86 138.30,284.64 138.60,287.21 138.89,286.57 139.19,290.24 139.49,286.58 139.78,287.43 140.08,280.83 140.38,285.81 140.67,290.63 140.97,281.07 141.26,282.05 141.56,288.72 141.86,284.87 142.15,287.09 142.45,275.87 142.75,285.36 143.04,280.30 143.34,279.05 143.64,284.67 143.93,286.06 144.23,276.08 144.53,278.69 144.82,282.93 145.12,285.97 145.42,282.30 145.71,293.82 146.01,288.63 146.31,286.12 146.60,286.16 146.90,295.22 147.20,294.37 147.49,284.53 147.79,286.32 148.09,290.12 148.38,284.00 148.68,286.14 148.97,291.54 149.27,284.41 149.57,284.99 149.86,281.84 150.16,283.43 150.46,287.82 150.75,283.29 151.05,282.24 151.35,283.57 151.64,290.24 151.94,285.54 152.24,284.13 152.53,286.95 152.83,289.15 153.13,291.04 153.42,286.38 153.72,291.45 154.02,287.95 154.31,290.54 154.61,282.29 154.91,288.89 155.20,284.73 155.50,283.29 155.80,295.26 156.09,290.11 156.39,293.07 156.69,292.47 156.98,297.07 157.28,295.11 157.57,293.33 157.87,292.45 158.17,286.35 158.46,286.91 158.76,292.68 159.06,289.22 159.35,296.04 159.65,296.67 159.95,289.29 160.24,286.87 160.54,285.84 160.84,288.21 161.13,292.39 161.43,297.19 161.73,300.84 162.02,294.13 162.32,294.40 162.62,299.56 162.91,297.29 163.21,296.10 163.51,289.33 163.80,292.97 164.10,296.01 164.40,294.00 164.69,300.63 164.99,294.04 165.29,293.40 165.58,288.79 165.88,288.24 166.17,289.80 166.47,292.21 166.77,295.11 167.06,297.43 167.36,297.39 167.66,298.85 167.95,290.62 168.25,293.51 168.55,294.91 168.84,301.59 169.14,299.24 169.44,301.17 169.73,295.87 170.03,295.86 170.33,294.52 170.62,293.23 170.92,295.54 171.22,297.22 171.51,298.26 171.81,292.47 172.11,297.37 172.40,294.56 172.70,301.39 173.00,300.90 173.29,296.19 173.59,295.55 173.88,303.95 174.18,299.41 174.48,299.52 174.77,296.37 175.07,296.52 175.37,299.60 175.66,300.32 175.96,296.81 176.26,301.84 176.55,297.97 176.85,292.85 177.15,297.64 177.44,294.82 177.74,297.92 178.04,293.19 178.33,294.40 178.63,288.34 178.93,295.13 179.22,289.17 179.52,292.82 179.82,284.22 180.11,292.34 180.41,295.12 180.71,294.81 181.00,298.21 181.30,291.84 181.60,299.84 181.89,298.82 182.19,288.54 182.48,289.03 182.78,289.41 183.08,290.56 183.37,290.66 183.67,282.40 183.97,293.16 184.26,290.91 184.56,288.36 184.86,295.33 185.15,292.79 185.45,298.61 185.75,296.21 186.04,291.80 186.34,294.68 186.64,292.51 186.93,288.62 187.23,285.35 187.53,287.57 187.82,289.57 188.12,286.01 188.42,292.37 188.71,287.37 189.01,286.69 189.31,287.52 189.60,284.20 189.90,286.90 190.20,285.82 190.49,282.50 190.79,285.48 191.08,292.92 191.38,288.22 191.68,287.93 191.97,282.16 192.27,284.50 192.57,289.69 192.86,288.92 193.16,286.86 193.46,291.76 193.75,285.02 194.05,283.68 194.35,289.36 194.64,280.41 194.94,287.88 195.24,282.90 195.53,287.22 195.83,290.65 196.13,294.69 196.42,292.66 196.72,292.53 197.02,292.83 197.31,300.89 197.61,305.77 197.91,304.61 198.20,307.37 198.50,298.31 198.80,290.14 199.09,298.69 199.39,292.11 199.68,299.35 199.98,285.79 200.28,324.22 200.57,295.87 200.87,300.34 201.17,301.59 201.46,283.19 201.76,294.84 202.06,288.48 202.35,292.77 202.65,288.10 202.95,302.06 203.24,303.13 203.54,302.00 203.84,316.97 204.13,316.86 204.43,303.72 204.73,299.49 205.02,297.40 205.32,297.50 205.62,312.81 205.91,304.17 206.21,298.46 206.51,295.67 206.80,298.42 207.10,291.92 207.39,300.01 207.69,299.27 207.99,311.77 208.28,311.91 208.58,292.18 208.88,301.30 209.17,308.17 209.47,301.44 209.77,313.58 210.06,308.59 210.36,307.44 210.66,302.82 210.95,309.56 211.25,312.79 211.55,295.11 211.84,295.92 212.14,291.76 212.44,311.61 212.73,303.57 213.03,307.95 213.33,308.24 213.62,304.04 213.92,304.98 214.22,319.53 214.51,310.45 214.81,324.53 215.11,311.95 215.40,310.49 215.70,308.97 215.99,310.62 216.29,310.82 216.59,321.88 216.88,328.30 217.18,299.45 217.48,307.96 217.77,312.74 218.07,305.82 218.37,313.27 218.66,314.68 218.96,293.48 219.26,310.74 219.55,302.38 219.85,303.47 220.15,308.75 220.44,314.30 220.74,332.35 221.04,313.72 221.33,316.23 221.63,301.21 221.93,306.55 222.22,303.57 222.52,309.89 222.82,307.47 223.11,309.27 223.41,317.04 223.71,314.55 224.00,310.02 224.30,300.38 224.59,309.08 224.89,289.51 225.19,325.58 225.48,321.53 225.78,323.21 226.08,327.55 226.37,312.99 226.67,324.89 226.97,313.50 227.26,322.91 227.56,314.99 227.86,317.82 228.15,325.34 228.45,309.66 228.75,313.03 229.04,316.41 229.34,319.86 229.64,335.93 229.93,303.39 230.23,290.08 230.53,302.17 230.82,292.34 231.12,298.10 231.42,302.73 231.71,296.80 232.01,301.79 232.31,295.32 232.60,317.98 232.90,314.58 233.19,330.45 233.49,328.25 233.79,307.66 234.08,306.70 234.38,308.36 234.68,315.50 234.97,297.41 235.27,313.14 235.57,330.72 235.86,312.88 236.16,313.52 236.46,315.05 236.75,308.40 237.05,322.93 237.35,313.82 237.64,309.58 237.94,312.13 238.24,312.04 238.53,291.11 238.83,305.34 239.13,299.56 239.42,313.17 239.72,313.46 240.02,312.36 240.31,322.69 240.61,315.16 240.90,313.64 241.20,315.27 241.50,317.44 241.79,314.41 242.09,297.78 242.39,307.12 242.68,312.74 242.98,323.46 243.28,329.30 243.57,312.38 243.87,330.61 244.17,317.32 244.46,319.96 244.76,314.09 245.06,313.95 245.35,329.03 245.65,319.64 245.95,319.58 246.24,322.57 246.54,319.77 246.84,295.56 247.13,307.16 247.43,309.11 247.73,320.89 248.02,324.42 248.32,306.59 248.62,312.01 248.91,317.83 249.21,319.47 249.50,308.44 249.80,318.56 250.10,306.98 250.39,290.12 250.69,299.52 250.99,313.78 251.28,320.19 251.58,297.19 251.88,299.19 252.17,312.05 252.47,286.80 252.77,317.10 253.06,319.74 253.36,288.29 253.66,319.85 253.95,317.27 254.25,331.78 254.55,320.97 254.84,314.50 255.14,312.83 255.44,311.43 255.73,301.86 256.03,305.17 256.33,303.28 256.62,325.61 256.92,322.74 257.22,331.45 257.51,307.91 257.81,299.54 258.10,296.54 258.40,313.79 258.70,309.81 258.99,305.68 259.29,324.04 259.59,327.32 259.88,314.96 260.18,311.87 260.48,322.87 260.77,308.65 261.07,332.35 261.37,315.58 261.66,322.56 261.96,311.10 262.26,319.96 262.55,326.13 262.85,323.04 263.15,319.89 263.44,330.78 263.74,326.35 264.04,324.81 264.33,325.14 264.63,326.94 264.93,332.00 265.22,326.92 265.52,328.89 265.81,327.01 266.11,334.30 266.41,331.10 266.70,332.38 267.00,330.14 267.30,326.83 267.59,330.89 267.89,333.05 268.19,329.01 268.48,334.19 268.78,341.16 269.08,330.44 269.37,333.15 269.67,328.26 269.97,332.90 270.26,329.77 270.56,334.26 270.86,333.04 271.15,329.63 271.45,335.19 271.75,331.29 272.04,327.74 272.34,329.18 272.64,325.84 272.93,329.17 273.23,328.01 273.53,327.49 273.82,329.93 274.12,323.99 274.41,329.97 274.71,322.56 275.01,332.89 275.30,328.77 275.60,327.99 275.90,327.70 276.19,331.84 276.49,330.05 276.79,329.11 277.08,330.33 277.38,324.63 277.68,326.07 277.97,329.48 278.27,331.94 278.57,328.29 278.86,329.35 279.16,328.26 279.46,329.33 279.75,331.23 280.05,322.62 280.35,324.33 280.64,325.32 280.94,328.36 281.24,329.80 281.53,322.01 281.83,321.78 282.13,324.86 282.42,316.01 282.72,316.41 283.01,317.12 283.31,318.91 283.61,319.24 283.90,315.69 284.20,323.53 284.50,315.40 284.79,318.15 285.09,322.23 285.39,319.11 285.68,315.15 285.98,317.58 286.28,320.67 286.57,317.54 286.87,318.93 287.17,311.40 287.46,314.28 287.76,306.20 288.06,309.06 288.35,308.58 288.65,318.84 288.95,311.62 289.24,316.18 289.54,309.94 289.84,310.59 290.13,307.31 290.43,303.82 290.73,314.38 291.02,303.53 291.32,314.73 291.61,323.77 291.91,303.42 292.21,307.21 292.50,299.99 292.80,309.39 293.10,298.93 293.39,308.27 293.69,298.32 293.99,288.78 294.28,291.75 294.58,291.32 294.88,300.29 295.17,308.13 295.47,301.77 295.77,299.25 296.06,303.53 296.36,308.12 296.66,294.02 296.95,312.59 297.25,310.98 297.55,290.99 297.84,308.09 298.14,294.66 298.44,305.18 298.73,312.82 299.03,296.93 299.32,296.77 299.62,300.67 299.92,298.53 300.21,302.84 300.51,304.34 300.81,310.48 301.10,313.16 301.40,312.43 301.70,304.69 301.99,307.15 302.29,302.33 302.59,295.47 302.88,309.92 303.18,292.81 303.48,305.67 303.77,300.96 304.07,310.02 304.37,311.73 304.66,312.14 304.96,314.07 305.26,302.52 305.55,323.52 305.85,308.32 306.15,296.95 306.44,291.92 306.74,316.76 307.04,318.72 307.33,310.64 307.63,313.71 307.92,316.63 308.22,309.67 308.52,305.23 308.81,305.68 309.11,309.71 309.41,304.28 309.70,295.80 310.00,306.67 310.30,296.00 310.59,304.39 310.89,316.43 311.19,311.61 311.48,313.41 311.78,314.13 312.08,318.68 312.37,312.28 312.67,301.14 312.97,311.26 313.26,292.71 313.56,299.81 313.86,320.18 314.15,315.33 314.45,304.42 314.75,304.30 315.04,304.54 315.34,309.78 315.64,298.29 315.93,294.95 316.23,294.94 316.52,298.82 316.82,300.79 317.12,299.54 317.41,307.75 317.71,298.75 318.01,304.03 318.30,302.71 318.60,304.50 318.90,318.49 319.19,309.29 319.49,303.31 319.79,307.22 320.08,301.69 320.38,309.79 320.68,310.19 320.97,310.48 321.27,300.04 321.57,304.91 321.86,315.77 322.16,306.43 322.46,312.07 322.75,312.22 323.05,299.14 323.35,311.54 323.64,309.49 323.94,309.38 324.23,310.92 324.53,302.97 324.83,299.99 325.12,302.13 325.42,297.96 325.72,301.16 326.01,291.54 326.31,310.14 326.61,303.43 326.90,308.56 327.20,307.00 327.50,304.11 327.79,300.42 328.09,297.97 328.39,292.67 328.68,300.71 328.98,310.84 329.28,303.06 329.57,302.88 329.87,316.37 330.17,313.41 330.46,313.68 330.76,307.19 331.06,307.61 331.35,307.03 331.65,303.51 331.95,299.50 332.24,294.19 332.54,297.63 332.83,295.75 333.13,306.77 333.43,299.30 333.72,299.70 334.02,301.33 334.32,299.95 334.61,300.73 334.91,295.96 335.21,292.74 335.50,303.47 335.80,294.62 336.10,293.76 336.39,291.53 336.69,293.29 336.99,296.95 337.28,299.12 337.58,291.36 337.88,294.17 338.17,292.05 338.47,299.01 338.77,292.44 339.06,297.53 339.36,301.07 339.66,295.81 339.95,299.04 340.25,297.56 340.55,294.01 340.84,295.14 341.14,298.57 341.43,297.37 341.73,296.06 342.03,297.03 342.32,299.68 342.62,302.40 342.92,300.96 343.21,299.93 343.51,300.23 343.81,289.90 344.10,289.84 344.40,287.85 344.70,296.00 344.99,287.81 345.29,295.07 345.59,298.37 345.88,292.53 346.18,293.32 346.48,293.25 346.77,295.45 347.07,289.04 347.37,293.79 347.66,294.88 347.96,292.82 348.26,292.27 348.55,295.18 348.85,291.99 349.15,290.12 349.44,288.02 349.74,289.97 350.03,286.84 350.33,289.13 350.63,289.02 350.92,293.98 351.22,289.70 351.52,292.04 351.81,292.66 352.11,292.09 352.41,292.78 352.70,289.88 353.00,291.33 353.30,294.76 353.59,291.89 353.89,285.59 354.19,282.55 354.48,287.38 354.78,285.96 355.08,289.78 355.37,288.92 355.67,290.80 355.97,287.43 356.26,279.96 356.56,284.94 356.86,285.03 357.15,283.26 357.45,288.70 357.74,285.80 358.04,286.34 358.34,291.84 358.63,289.77 358.93,290.26 359.23,287.37 359.52,285.76 359.82,290.99 360.12,284.93 360.41,284.82 360.71,284.05 361.01,286.27 361.30,292.79 361.60,285.12 361.90,284.28 362.19,283.52 362.49,281.52 362.79,278.30 363.08,280.01 363.38,284.32 363.68,283.27 363.97,279.65 364.27,278.90 364.57,279.23 364.86,280.28 365.16,281.98 365.46,279.81 365.75,283.64 366.05,286.35 366.34,285.38 366.64,281.69 366.94,282.53 367.23,282.62 367.53,286.24 367.83,281.50 368.12,287.89 368.42,284.05 368.72,284.84 369.01,286.62 369.31,284.79 369.61,286.57 369.90,287.49 370.20,287.05 370.50,281.56 370.79,279.19 371.09,282.62 371.39,286.81 371.68,288.71 371.98,283.55 372.28,284.14 372.57,285.07 372.87,285.32 373.17,282.98 373.46,284.55 373.76,286.72 374.06,286.24 374.35,285.34 374.65,281.76 374.94,282.58 375.24,280.94 375.54,285.54 375.83,287.84 376.13,285.98 376.43,290.47 376.72,284.24 377.02,283.75 377.32,280.19 377.61,284.29 377.91,281.07 378.21,282.98 378.50,285.07 378.80,282.55 379.10,280.10 379.39,285.35 379.69,286.55 379.99,287.77 380.28,290.90 380.58,288.66 380.88,289.13 381.17,295.60 381.47,290.80 381.77,284.49 382.06,280.72 382.36,283.07 382.65,287.65 382.95,289.80 383.25,294.29 383.54,284.21 383.84,287.65 384.14,288.32 384.43,291.27 384.73,288.59 385.03,283.74 385.32,289.72 385.62,285.44 385.92,288.59 386.21,281.28 386.51,284.68 386.81,286.99 387.10,278.43 387.40,282.28 387.70,292.10 387.99,290.12 388.29,281.13 388.59,282.57 388.88,280.18 389.18,282.95 389.48,291.32 389.77,284.40 390.07,294.56 390.37,287.29 390.66,284.80 390.96,291.16 391.25,288.43 391.55,290.23 391.85,292.39 392.14,289.72 392.44,291.38 392.74,282.77 393.03,285.25 393.33,288.41 393.63,288.01 393.92,291.23 394.22,288.88 394.52,293.85 394.81,295.61 395.11,291.21 395.41,293.36 395.70,293.14 396.00,293.92 396.30,290.68 396.59,287.75 396.89,290.32 397.19,291.42 397.48,286.89 397.78,289.73 398.08,287.51 398.37,289.52 398.67,290.61 398.97,295.87 399.26,297.97 399.56,295.45 399.85,297.94 400.15,297.67 400.45,295.41 400.74,289.51 401.04,289.29 401.34,292.25 401.63,289.21 401.93,298.54 402.23,289.51 402.52,288.83 402.82,292.25 403.12,289.37 403.41,284.52 403.71,290.04 404.01,286.84 404.30,286.73 404.60,283.15 404.90,285.33 405.19,288.70 405.49,290.46 405.79,288.38 406.08,289.77 406.38,290.09 406.68,292.89 406.97,291.35 407.27,287.41 407.57,291.60 407.86,288.13 408.16,291.59 408.45,288.72 408.75,292.59 409.05,291.61 409.34,291.52 409.64,292.25 409.94,291.56 410.23,290.62 410.53,291.65 410.83,289.72 411.12,294.45 411.42,289.84 411.72,290.59 412.01,296.58 412.31,297.64 412.61,302.35 412.90,300.14 413.20,301.66 413.50,298.62 413.79,300.93 414.09,301.53 414.39,296.65 414.68,292.91 414.98,291.38 415.28,290.66 415.57,293.12 415.87,292.40 416.16,296.55 416.46,293.76 416.76,292.21 417.05,294.95 417.35,292.25 417.65,296.06 417.94,298.18 418.24,294.14 418.54,291.06 418.83,288.89 419.13,297.69 419.43,292.98 419.72,288.67 420.02,295.55 420.32,290.09 420.61,294.55 420.91,294.14 421.21,291.88 421.50,288.24 421.80,296.23 422.10,288.64 422.39,291.97 422.69,291.95 422.99,287.42 423.28,290.01 423.58,292.38 423.88,295.33 424.17,293.09 424.47,295.34 424.76,293.03 425.06,295.00 425.36,286.85 425.65,295.00 425.95,291.86 426.25,291.58 426.54,284.38 426.84,288.18 427.14,292.26 427.43,296.05 427.73,287.61 428.03,288.39 428.32,292.16 428.62,291.08 428.92,288.77 429.21,292.35 429.51,294.27 429.81,296.75 430.10,295.40 430.40,297.19 430.70,295.37 430.99,294.67 431.29,292.37 431.59,293.96 431.88,289.29 432.18,297.35 432.48,291.43 432.77,294.51 433.07,289.65 433.36,295.45 433.66,294.58 433.96,293.33 434.25,291.33 434.55,289.48 434.85,296.45 435.14,296.60 435.44,295.56 435.74,295.80 436.03,291.95 436.33,288.49 436.63,289.28 436.92,292.45 437.22,292.47 437.52,288.19 437.81,292.16 438.11,290.61 438.41,289.01 438.70,283.46 439.00,286.87 439.30,285.90 439.59,281.58 439.89,279.80 440.19,292.09 440.48,289.27 440.78,287.02 441.07,293.12 441.37,292.38 441.67,290.04 441.96,288.24 442.26,288.84 442.56,289.84 442.85,285.16 443.15,284.16 443.45,287.42 443.74,280.28 444.04,289.43 444.34,287.73 444.63,287.93 444.93,287.75 445.23,289.37 445.52,287.71 445.82,286.47 446.12,285.84 446.41,288.16 446.71,286.51 447.01,290.55 447.30,283.11 447.60,288.92 447.90,290.41 448.19,285.02 448.49,285.52 448.79,288.52 449.08,284.48 449.38,284.48 449.67,280.43 449.97,288.62 450.27,287.33 450.56,289.85 450.86,295.52 451.16,291.19 451.45,291.41 451.75,288.09 452.05,288.56 452.34,288.50 452.64,291.89 452.94,292.82 453.23,289.98 453.53,290.24 453.83,293.64 454.12,285.61 454.42,288.60 454.72,290.57 455.01,289.09 455.31,289.12 455.61,292.75 455.90,290.90 456.20,290.29 456.50,288.94 456.79,291.17 457.09,289.88 457.39,293.65 457.68,289.54 457.98,289.08 458.27,287.97 458.57,289.51 458.87,286.44 459.16,289.89 459.46,288.00 459.76,284.88 460.05,279.77 460.35,283.14 460.65,292.40 460.94,288.57 461.24,289.66 461.54,289.65 461.83,293.05 462.13,286.86 462.43,284.90 462.72,282.78 463.02,285.99 463.32,289.88 463.61,291.88 463.91,290.41 464.21,285.87 464.50,290.14 464.80,286.02 465.10,285.51 465.39,285.55 465.69,286.11 465.99,286.93 466.28,287.77 466.58,285.57 466.87,288.58 467.17,287.14 467.47,291.09 467.76,284.06 468.06,292.58 468.36,289.23 468.65,287.62 468.95,285.18 469.25,285.54 469.54,283.21 469.84,288.29 470.14,285.21 470.43,289.13 470.73,290.95 471.03,288.42 471.32,290.44 471.62,291.63 471.92,295.91 472.21,292.91 472.51,291.29 472.81,291.41 473.10,289.38 473.40,294.92 473.70,285.54 473.99,289.54 474.29,289.12 474.58,282.87 474.88,288.99 475.18,287.63 475.47,289.62 475.77,285.29 476.07,290.32 476.36,287.67 476.66,290.07 476.96,295.33 477.25,290.91 477.55,284.51 477.85,286.38 478.14,287.39 478.44,293.49 478.74,288.51 479.03,285.27 479.33,291.88 479.63,290.12 479.92,291.78 480.22,290.00 480.52,295.80 480.81,290.77 481.11,285.61 481.41,287.96 481.70,288.45 482.00,289.59 482.30,292.21 482.59,289.19 482.89,289.11 483.18,294.62 483.48,287.70 483.78,286.28 484.07,288.81 484.37,287.11 484.67,293.83 484.96,295.93 485.26,291.89 485.56,296.16 485.85,291.74 486.15,291.20 486.45,287.70 486.74,289.23 487.04,289.88 487.34,296.03 487.63,294.60 487.93,293.56 488.23,289.50 488.52,287.56 488.82,288.43 489.12,292.25 489.41,292.16 489.71,287.83 490.01,288.77 490.30,293.15 490.60,289.70 490.90,295.17 491.19,291.06 491.49,293.78 491.78,288.98 492.08,293.11 492.38,286.86 492.67,291.45 492.97,290.11 493.27,285.30 493.56,286.86 493.86,294.02 494.16,292.95 494.45,294.83 494.75,290.87 495.05,281.21 495.34,288.22 495.64,285.88 495.94,287.47 496.23,289.30 496.53,289.00 496.83,287.52 497.12,292.52 497.42,291.05 497.72,289.21 498.01,289.74 498.31,292.23 498.61,289.76 498.90,289.26 499.20,285.27 499.49,286.73 499.79,284.53 500.09,282.94 500.38,291.67 500.68,290.15 500.98,290.72 501.27,287.61 501.57,289.35 501.87,291.48 502.16,288.14 502.46,290.53 502.76,285.50 503.05,289.41 503.35,289.75 503.65,293.75 503.94,290.44 504.24,287.70 504.54,288.40 504.83,284.90 505.13,287.72 505.43,284.91 505.72,284.65 506.02,285.55 506.32,289.04 506.61,286.24 506.91,284.36 507.21,280.88 507.50,288.95 507.80,287.47 508.09,288.30 508.39,287.38 508.69,292.30 508.98,285.56 509.28,291.39 509.58,285.86 509.87,287.38 510.17,285.82 510.47,288.93 510.76,287.05 511.06,287.58 511.36,283.37 511.65,280.16 511.95,284.98 512.25,286.84 512.54,285.48 512.84,284.03 513.14,286.11 513.43,280.81 513.73,284.66 514.03,288.53 514.32,286.10 514.62,282.47 514.92,288.48 515.21,287.61 515.51,290.00 515.81,283.22 516.10,284.37 516.40,285.19 516.69,283.71 516.99,284.37 517.29,284.13 517.58,284.25 517.88,285.47 518.18,285.82 518.47,279.00 518.77,281.42 519.07,280.77 519.36,281.33 519.66,283.57 519.96,277.09 520.25,282.16 520.55,276.75 520.85,280.21 521.14,281.66 521.44,282.56 521.74,281.22 522.03,281.12 522.33,282.18 522.63,283.51 522.92,279.78 523.22,280.88 523.52,283.66 523.81,286.78 524.11,288.74 524.41,293.89 524.70,286.07 525.00,283.20 525.29,285.22 525.59,285.68 525.89,284.07 526.18,281.74 526.48,284.88 526.78,284.88 527.07,280.80 527.37,280.73 527.67,286.49 527.96,276.73 528.26,282.47 528.56,281.17 528.85,285.99 529.15,285.13 529.45,282.31 529.74,288.05 530.04,283.08 530.34,289.86 530.63,288.67 530.93,283.98 531.23,287.24 531.52,286.99 531.82,284.06 532.12,287.85 532.41,284.80 532.71,285.35 533.00,285.76 533.30,286.95 533.60,286.66 533.89,284.13 534.19,284.59 534.49,285.59 534.78,283.48 535.08,282.11 535.38,288.47 535.67,286.31 535.97,289.24 536.27,280.00 536.56,280.41 536.86,279.09 537.16,279.97 537.45,282.16 537.75,284.24 538.05,283.31 538.34,287.95 538.64,285.08 538.94,282.10 539.23,282.59 539.53,285.37 539.83,284.55 540.12,281.26 540.42,285.14 540.72,280.84 541.01,283.71 541.31,288.49 541.60,278.49 541.90,284.74 542.20,287.93 542.49,285.33 542.79,283.50 543.09,282.74 543.38,279.78 543.68,281.44 543.98,284.25 544.27,281.54 544.57,281.35 544.87,281.30 545.16,283.73 545.46,279.49 545.76,282.25 546.05,282.43 546.35,282.75 546.65,281.14 546.94,277.83 547.24,284.08 547.54,284.34 547.83,288.14 548.13,284.12 548.43,285.48 548.72,282.72 549.02,280.13 549.32,281.28 549.61,277.34 549.91,281.70 550.20,281.62 550.50,279.44 550.80,284.86 551.09,285.47 551.39,284.46 551.69,283.94 551.98,284.08 552.28,279.62 552.58,278.15 552.87,280.60 553.17,284.74 553.47,283.37 553.76,279.56 554.06,286.26 554.36,282.78 554.65,285.08 554.95,284.06 555.25,280.87 555.54,282.39 555.84,280.46 556.14,279.79 556.43,280.06 556.73,280.85 557.03,282.98 557.32,278.82 557.62,282.99 557.92,280.70 558.21,278.51 558.51,280.60 558.80,277.98 559.10,283.35 559.40,279.18 559.69,276.71 559.99,280.04 560.29,275.16 560.58,276.46 560.88,279.18 561.18,279.54 561.47,278.62 561.77,274.78 562.07,276.92 562.36,282.02 562.66,282.94 562.96,279.85 563.25,282.26 563.55,281.07 563.85,282.37 564.14,277.66 564.44,281.36 564.74,276.26 565.03,280.88 565.33,280.81 565.63,277.11 565.92,279.11 566.22,279.82 566.51,280.86 566.81,276.03 567.11,278.72 567.40,280.45 567.70,279.77 568.00,277.64 568.29,279.40 568.59,282.35 568.89,278.03 569.18,280.81 569.48,283.35 569.78,282.50 570.07,276.50 570.37,284.70 570.67,283.66 570.96,283.32 571.26,280.96 571.56,274.08 571.85,281.12 572.15,279.03 572.45,280.85 572.74,278.56 573.04,278.27 573.34,278.10 573.63,282.34 573.93,279.62 574.23,279.83 574.52,279.00 574.82,283.15 575.11,280.21 575.41,278.91 575.71,280.08 576.00,279.10 576.30,277.39 576.60,278.09 576.89,278.23 577.19,279.54 577.49,278.80 577.78,277.64 578.08,275.70 578.38,279.77 578.67,280.26 578.97,275.94 579.27,279.34 579.56,277.20 579.86,272.43 580.16,277.10 580.45,278.92 580.75,274.45 581.05,274.69 581.34,279.23 581.64,274.10 581.94,273.81 582.23,275.39 582.53,278.58 582.83,279.17 583.12,276.06 583.42,275.78 583.71,276.17 584.01,275.32 584.31,274.63 584.60,273.56 584.90,276.24 585.20,273.01 585.49,281.24 585.79,277.90 586.09,275.26 586.38,276.67 586.68,277.09 586.98,276.43 587.27,276.00 587.57,277.00 587.87,277.59 588.16,280.07 588.46,282.88 588.76,276.77 589.05,277.60 589.35,279.33 589.65,278.78 589.94,277.29 590.24,278.39 590.54,275.37 590.83,275.48 591.13,278.28 591.42,278.34 591.72,280.24 592.02,279.72 592.31,271.90 592.61,278.20 592.91,274.48 593.20,270.49 593.50,276.91 593.80,277.39 594.09,277.84 594.39,274.77 594.69,274.29 594.98,276.47 595.28,274.36 595.58,277.19 595.87,276.53 596.17,275.46 596.47,276.48 596.76,275.48 597.06,273.37 597.36,274.61 597.65,277.16 597.95,277.57 598.25,274.46 598.54,273.34 598.84,276.26 599.14,272.61 599.43,274.86 599.73,276.16 600.02,275.52 600.32,272.39 600.62,270.61 600.91,268.46 601.21,271.32 601.51,275.29 601.80,272.24 602.10,274.31 602.40,275.72 602.69,280.05 602.99,278.97 603.29,280.62 603.58,278.57 603.88,273.20 604.18,274.12 604.47,272.85 604.77,280.00 605.07,280.06 605.36,279.95 605.66,279.64 605.96,278.09 606.25,275.94 606.55,274.83 606.85,276.25 607.14,271.25 607.44,271.04 607.74,274.27 608.03,277.16 608.33,274.11 608.62,272.45 608.92,275.62 609.22,274.21 609.51,268.46 609.81,269.97 610.11,267.50 610.40,271.86 610.70,271.56 611.00,273.94 611.29,278.17 611.59,272.42 611.89,273.97 612.18,272.92 612.48,267.95 612.78,273.64 613.07,273.94 613.37,276.29 613.67,273.72 613.96,272.69 614.26,277.06 614.56,274.98 614.85,272.63 615.15,273.60 615.45,275.42 615.74,277.81 616.04,278.81 616.34,272.96 616.63,279.56 616.93,277.35 617.22,278.28 617.52,279.43 617.82,274.10 618.11,277.77 618.41,272.57 618.71,274.42 619.00,272.88 619.30,278.17 619.60,278.11 619.89,276.52 620.19,276.17 620.49,273.13 620.78,277.54 621.08,276.89 621.38,276.87 621.67,275.77 621.97,276.65 622.27,278.36 622.56,281.21 622.86,274.86 623.16,277.13 623.45,280.35 623.75,277.08 624.05,277.76 624.34,275.16 624.64,276.61 624.93,279.25 625.23,277.09 625.53,276.50 625.82,274.82 626.12,272.40 626.42,279.11 626.71,274.95 627.01,274.70 627.31,278.55 627.60,274.05 627.90,272.05 628.20,272.98 628.49,273.80 628.79,274.85 629.09,276.07 629.38,276.99 629.68,273.11 629.98,273.88 630.27,274.68 630.57,275.85 630.87,279.39 631.16,279.07 631.46,281.22 631.76,276.18 632.05,271.07 632.35,272.99 632.65,271.57 632.94,276.24 633.24,267.53 633.53,269.23 633.83,270.62 634.13,275.43 634.42,277.81 634.72,275.41 635.02,272.63 635.31,273.87 635.61,275.52 635.91,276.72 636.20,273.18 636.50,274.48 636.80,271.09 637.09,270.35 637.39,277.34 637.69,276.90 637.98,275.46 638.28,275.93 638.58,279.17 638.87,278.09 639.17,275.97 639.47,275.72 639.76,274.56 640.06,275.15 640.36,275.82 640.65,279.62 640.95,275.74 641.25,273.50 641.54,280.02 641.84,278.58 642.13,277.23 642.43,276.44 642.73,277.71 643.02,274.40 643.32,277.22 643.62,276.80 643.91,274.91 644.21,276.76 644.51,276.04 644.80,279.90 645.10,275.39 645.40,277.74 645.69,275.76 645.99,273.86 646.29,275.77 646.58,276.50 646.88,274.71 647.18,277.98 647.47,274.16 647.77,277.80 648.07,277.90 648.36,275.86 648.66,280.30 648.96,273.26 649.25,278.18 649.55,277.76 649.84,279.22 650.14,272.65 650.44,271.33 650.73,271.05 651.03,274.37 651.33,276.43 651.62,276.72 651.92,275.39 652.22,273.99 652.51,272.50 652.81,274.48 653.11,276.46 653.40,277.53 653.70,274.27 654.00,278.08 654.29,271.96 654.59,276.20 654.89,271.65 655.18,275.15 655.48,273.69 655.78,274.94 656.07,276.08 656.37,279.54 656.67,273.56 656.96,275.61 657.26,273.99 657.56,274.77 657.85,275.44 658.15,275.61 658.44,270.26 658.74,273.24 659.04,274.68 659.33,271.74 659.63,272.55 659.93,269.73 660.22,275.61 660.52,273.95 660.82,275.55 661.11,278.11 661.41,278.64 661.71,274.70 662.00,274.18 662.30,277.19"/>
<polyline fill="none" stroke="#ff0000" stroke-width="1.0" points="69.50,379.10 69.80,376.42 70.09,379.33 70.39,380.43 70.69,377.71 70.98,380.05 71.28,379.49 71.58,379.31 71.87,381.11 72.17,381.22 72.47,379.79 72.76,381.29 73.06,380.81 73.36,379.37 73.65,382.55 73.95,380.33 74.24,381.19 74.54,378.04 74.84,377.45 75.13,377.60 75.43,378.55 75.73,379.06 76.02,377.64 76.32,382.41 76.62,377.94 76.91,377.90 77.21,379.60 77.51,379.01 77.80,378.36 78.10,376.61 78.40,375.93 78.69,377.84 78.99,373.33 79.29,373.73 79.58,374.66 79.88,375.45 80.18,376.98 80.47,376.28 80.77,376.57 81.07,376.64 81.36,375.66 81.66,376.05 81.96,374.18 82.25,374.48 82.55,376.14 82.84,376.33 83.14,377.23 83.44,375.51 83.73,374.29 84.03,373.66 84.33,370.08 84.62,371.42 84.92,373.06 85.22,375.33 85.51,372.71 85.81,375.58 86.11,375.00 86.40,374.00 86.70,374.37 87.00,374.59 87.29,373.21 87.59,374.94 87.89,373.86 88.18,373.77 88.48,373.43 88.78,374.98 89.07,375.38 89.37,375.92 89.67,377.24 89.96,374.92 90.26,373.15 90.55,372.64 90.85,371.46 91.15,371.58 91.44,371.16 91.74,373.46 92.04,369.76 92.33,373.89 92.63,371.98 92.93,371.39 93.22,371.83 93.52,372.77 93.82,373.33 94.11,372.90 94.41,374.52 94.71,371.82 95.00,372.27 95.30,374.17 95.60,371.75 95.89,371.84 96.19,372.80 96.49,373.00 96.78,374.06 97.08,375.31 97.38,375.17 97.67,375.55 97.97,375.20 98.27,374.50 98.56,375.44 98.86,374.93 99.15,376.49 99.45,375.44 99.75,375.92 100.04,372.27 100.34,377.39 100.64,374.29 100.93,374.84 101.23,374.81 101.53,378.02 101.82,374.88 102.12,376.07 102.42,375.71 102.71,378.27 103.01,377.14 103.31,374.95 103.60,376.06 103.90,376.49 104.20,374.78 104.49,376.56 104.79,375.25 105.09,373.25 105.38,375.23 105.68,375.29 105.98,375.54 106.27,376.69 106.57,376.81 106.87,375.63 107.16,375.32 107.46,376.13 107.75,373.55 108.05,376.70 108.35,374.26 108.64,375.81 108.94,375.20 109.24,375.85 109.53,374.94 109.83,376.36 110.13,374.26 110.42,377.68 110.72,377.03 111.02,377.46 111.31,375.51 111.61,375.74 111.91,374.63 112.20,374.95 112.50,373.92 112.80,374.91 113.09,372.37 113.39,376.40 113.69,374.62 113.98,377.24 114.28,377.74 114.58,376.90 114.87,375.56 115.17,377.84 115.46,378.67 115.76,378.40 116.06,377.46 116.35,377.15 116.65,377.33 116.95,377.76 117.24,378.17 117.54,377.83 117.84,377.48 118.13,377.43 118.43,378.02 118.73,377.75 119.02,378.96 119.32,377.92 119.62,378.57 119.91,377.57 120.21,378.25 120.51,378.93 120.80,379.07 121.10,378.58 121.40,378.94 121.69,376.42 121.99,378.36 122.29,376.26 122.58,376.41 122.88,377.06 123.18,377.65 123.47,379.27 123.77,378.27 124.06,379.94 124.36,379.72 124.66,378.78 124.95,379.14 125.25,377.32 125.55,378.41 125.84,380.47 126.14,379.84 126.44,378.76 126.73,377.65 127.03,377.84 127.33,377.36 127.62,379.35 127.92,378.66 128.22,378.88 128.51,380.04 128.81,381.65 129.11,379.67 129.40,379.38 129.70,380.80 130.00,380.11 130.29,378.63 130.59,379.74 130.89,379.29 131.18,379.17 131.48,379.13 131.78,379.27 132.07,379.92 132.37,380.37 132.66,379.08 132.96,379.60 133.26,378.32 133.55,378.97 133.85,379.56 134.15,378.99 134.44,378.83 134.74,379.80 135.04,379.42 135.33,379.42 135.63,379.71 135.93,379.10 136.22,379.88 136.52,380.88 136.82,380.28 137.11,380.64 137.41,379.68 137.71,380.08 138.00,380.55 138.30,380.30 138.60,378.86 138.89,379.54 139.19,379.45 139.49,379.34 139.78,379.73 140.08,379.16 140.38,379.40 140.67,379.34 140.97,378.99 141.26,379.39 141.56,378.72 141.86,379.79 142.15,379.66 142.45,379.23 142.75,379.48 143.04,380.14 143.34,380.91 143.64,380.42 143.93,380.21 144.23,380.63 144.53,380.11 144.82,380.67 145.12,380.60 145.42,380.81 145.71,381.20 146.01,381.05 146.31,382.23 146.60,381.87 146.90,382.15 147.20,382.14 147.49,381.89 147.79,381.92 148.09,381.96 148.38,382.75 148.68,382.53 148.97,382.38 149.27,382.96 149.57,382.87 149.86,382.51 150.16,383.18 150.46,383.21 150.75,382.79 151.05,383.72 151.35,383.15 151.64,383.37 151.94,383.85 152.24,383.08 152.53,382.62 152.83,383.20 153.13,383.66 153.42,383.96 153.72,383.96 154.02,383.59 154.31,384.33 154.61,384.35 154.91,384.21 155.20,384.36 155.50,383.53 155.80,384.16 156.09,384.18 156.39,383.83 156.69,383.83 156.98,383.80 157.28,383.99 157.57,383.35 157.87,383.92 158.17,384.17 158.46,383.89 158.76,383.85 159.06,384.23 159.35,384.03 159.65,384.80 159.95,384.49 160.24,384.72 160.54,385.27 160.84,384.58 161.13,385.17 161.43,385.79 161.73,385.08 162.02,385.15 162.32,385.59 162.62,385.66 162.91,385.18 163.21,385.11 163.51,385.04 163.80,384.99 164.10,385.67 164.40,385.54 164.69,385.50 164.99,385.62 165.29,386.30 165.58,385.20 165.88,385.97 166.17,386.15 166.47,385.80 166.77,385.65 167.06,386.13 167.36,386.19 167.66,387.01 167.95,386.39 168.25,386.80 168.55,386.30 168.84,387.02 169.14,387.06 169.44,387.15 169.73,387.50 170.03,387.49 170.33,387.34 170.62,387.07 170.92,387.28 171.22,387.08 171.51,386.84 171.81,387.18 172.11,387.53 172.40,388.11 172.70,387.60 173.00,387.41 173.29,387.05 173.59,387.87 173.88,387.84 174.18,387.84 174.48,387.84 174.77,388.13 175.07,387.69 175.37,388.05 175.66,388.25 175.96,388.58 176.26,388.41 176.55,388.58 176.85,388.53 177.15,388.69 177.44,388.44 177.74,388.80 178.04,389.13 178.33,389.11 178.63,389.32 178.93,389.10 179.22,389.16 179.52,389.22 179.82,390.00 180.11,389.87 180.41,390.59 180.71,390.36 181.00,390.61 181.30,390.56 181.60,390.42 181.89,390.34 182.19,391.09 182.48,391.30 182.78,391.27 183.08,391.42 183.37,391.41 183.67,392.28 183.97,391.33 184.26,391.16 184.56,391.31 184.86,392.21 185.15,391.31 185.45,392.35 185.75,392.20 186.04,392.86 186.34,393.07 186.64,393.63 186.93,393.30 187.23,393.75 187.53,393.61 187.82,392.92 188.12,394.28 188.42,393.24 188.71,394.19 189.01,394.38 189.31,394.29 189.60,394.03 189.90,395.54 190.20,394.36 190.49,395.52 190.79,395.75 191.08,394.66 191.38,395.78 191.68,395.00 191.97,395.79 192.27,394.79 192.57,397.22 192.86,396.97 193.16,396.83 193.46,396.82 193.75,398.17 194.05,397.75 194.35,397.60 194.64,396.74 194.94,396.55 195.24,397.62 195.53,397.35 195.83,398.68 196.13,400.07 196.42,399.29 196.72,400.32 197.02,399.60 197.31,401.51 197.61,399.76 197.91,398.81 198.20,399.36 198.50,399.85 198.80,400.82 199.09,401.83 199.39,398.98 199.68,400.13 199.98,403.08 200.28,398.83 200.57,400.60 200.87,408.47 201.17,403.79 201.46,405.78 201.76,401.20 202.06,403.07 202.35,403.91 202.65,407.77 202.95,405.62 203.24,403.90 203.54,399.19 203.84,404.88 204.13,402.74 204.43,405.92 204.73,399.40 205.02,400.77 205.32,402.15 205.62,407.03 205.91,402.42 206.21,405.13 206.51,403.74 206.80,405.82 207.10,402.76 207.39,406.70 207.69,404.06 207.99,408.48 208.28,403.86 208.58,402.10 208.88,407.61 209.17,406.63 209.47,405.27 209.77,409.96 210.06,405.28 210.36,403.24 210.66,406.17 210.95,407.06 211.25,407.38 211.55,402.66 211.84,418.95 212.14,407.95 212.44,407.20 212.73,403.76 213.03,404.22 213.33,403.19 213.62,403.56 213.92,409.76 214.22,405.09 214.51,404.07 214.81,406.55 215.11,414.11 215.40,406.04 215.70,402.90 215.99,399.35 216.29,397.37 216.59,402.48 216.88,401.60 217.18,406.45 217.48,410.60 217.77,404.67 218.07,405.58 218.37,408.35 218.66,400.34 218.96,406.23 219.26,406.50 219.55,411.63 219.85,406.06 220.15,406.90 220.44,408.62 220.74,401.30 221.04,405.03 221.33,410.33 221.63,406.41 221.93,404.93 222.22,403.71 222.52,404.04 222.82,401.47 223.11,399.66 223.41,402.97 223.71,399.04 224.00,397.47 224.30,399.43 224.59,398.72 224.89,399.04 225.19,400.32 225.48,400.32 225.78,398.30 226.08,399.53 226.37,403.29 226.67,405.05 226.97,399.25 227.26,399.60 227.56,403.67 227.86,400.38 228.15,405.34 228.45,401.07 228.75,399.76 229.04,402.62 229.34,399.87 229.64,402.96 229.93,396.28 230.23,396.24 230.53,397.52 230.82,400.71 231.12,396.63 231.42,399.85 231.71,400.47 232.01,411.11 232.31,397.20 232.60,398.16 232.90,398.53 233.19,401.38 233.49,397.70 233.79,399.49 234.08,399.21 234.38,390.87 234.68,402.57 234.97,396.07 235.27,394.15 235.57,394.89 235.86,395.72 236.16,396.39 236.46,397.28 236.75,397.29 237.05,398.36 237.35,399.79 237.64,397.61 237.94,401.00 238.24,400.69 238.53,397.96 238.83,394.15 239.13,395.44 239.42,390.07 239.72,394.70 240.02,394.17 240.31,393.47 240.61,390.20 240.90,396.45 241.20,395.56 241.50,398.01 241.79,393.76 242.09,391.52 242.39,387.83 242.68,392.05 242.98,391.61 243.28,392.75 243.57,394.16 243.87,393.04 244.17,391.95 244.46,396.74 244.76,393.01 245.06,395.31 245.35,389.17 245.65,386.66 245.95,389.57 246.24,395.16 246.54,393.26 246.84,388.19 247.13,392.31 247.43,392.10 247.73,395.21 248.02,399.10 248.32,393.57 248.62,394.71 248.91,391.62 249.21,389.96 249.50,389.00 249.80,390.52 250.10,393.46 250.39,392.53 250.69,392.54 250.99,389.13 251.28,389.44 251.58,391.34 251.88,390.87 252.17,392.03 252.47,390.81 252.77,396.63 253.06,393.75 253.36,395.02 253.66,396.86 253.95,388.99 254.25,398.04 254.55,391.31 254.84,393.19 255.14,391.05 255.44,393.42 255.73,391.35 256.03,392.59 256.33,390.68 256.62,393.11 256.92,392.28 257.22,395.98 257.51,390.89 257.81,392.03 258.10,390.00 258.40,391.88 258.70,386.38 258.99,389.05 259.29,394.13 259.59,391.36 259.88,390.27 260.18,388.69 260.48,389.29 260.77,389.62 261.07,390.47 261.37,387.63 261.66,389.19 261.96,391.85 262.26,390.42 262.55,386.15 262.85,389.75 263.15,387.61 263.44,387.82 263.74,386.54 264.04,386.70 264.33,388.99 264.63,389.11 264.93,387.24 265.22,388.23 265.52,388.03 265.81,385.95 266.11,386.54 266.41,386.82 266.70,385.64 267.00,386.81 267.30,387.17 267.59,384.69 267.89,385.85 268.19,386.03 268.48,386.58 268.78,384.42 269.08,385.34 269.37,386.81 269.67,387.45 269.97,386.64 270.26,385.52 270.56,386.51 270.86,384.90 271.15,383.79 271.45,385.05 271.75,385.54 272.04,385.29 272.34,384.58 272.64,383.97 272.93,383.49 273.23,384.43 273.53,382.07 273.82,382.79 274.12,383.08 274.41,382.34 274.71,382.79 275.01,382.95 275.30,383.56 275.60,382.05 275.90,382.36 276.19,382.85 276.49,381.73 276.79,382.05 277.08,381.34 277.38,381.40 277.68,380.24 277.97,381.15 278.27,381.09 278.57,381.76 278.86,380.57 279.16,381.65 279.46,380.09 279.75,379.86 280.05,378.67 280.35,379.19 280.64,380.53 280.94,379.61 281.24,381.30 281.53,379.80 281.83,381.62 282.13,378.30 282.42,378.95 282.72,378.81 283.01,378.61 283.31,378.99 283.61,377.05 283.90,379.14 284.20,379.93 284.50,378.64 284.79,377.41 285.09,378.30 285.39,378.69 285.68,379.47 285.98,378.30 286.28,379.77 286.57,377.65 286.87,378.73 287.17,378.42 287.46,380.81 287.76,379.43 288.06,379.49 288.35,377.72 288.65,376.17 288.95,378.00 289.24,377.85 289.54,376.61 289.84,376.80 290.13,375.10 290.43,377.11 290.73,377.24 291.02,379.32 291.32,377.58 291.61,377.17 291.91,376.94 292.21,374.82 292.50,375.66 292.80,378.10 293.10,377.73 293.39,376.09 293.69,378.28 293.99,377.71 294.28,378.84 294.58,378.50 294.88,377.84 295.17,375.61 295.47,376.47 295.77,375.69 296.06,375.78 296.36,376.81 296.66,376.24 296.95,376.19 297.25,376.09 297.55,373.45 297.84,374.36 298.14,376.23 298.44,377.46 298.73,373.94 299.03,375.67 299.32,377.18 299.62,380.43 299.92,375.84 300.21,377.13 300.51,377.66 300.81,378.06 301.10,374.63 301.40,375.40 301.70,375.56 301.99,375.22 302.29,375.22 302.59,376.25 302.88,377.18 303.18,376.91 303.48,376.80 303.77,376.27 304.07,375.44 304.37,375.03 304.66,375.45 304.96,378.82 305.26,379.07 305.55,378.03 305.85,377.02 306.15,375.89 306.44,376.44 306.74,375.94 307.04,375.58 307.33,374.49 307.63,375.84 307.92,374.27 308.22,373.40 308.52,375.47 308.81,374.52 309.11,376.35 309.41,377.69 309.70,377.53 310.00,378.55 310.30,379.98 310.59,375.48 310.89,375.12 311.19,376.45 311.48,376.09 311.78,377.39 312.08,378.96 312.37,377.75 312.67,375.86 312.97,382.13 313.26,376.79 313.56,375.97 313.86,379.10 314.15,375.92 314.45,376.82 314.75,378.18 315.04,376.77 315.34,377.82 315.64,379.02 315.93,377.65 316.23,377.13 316.52,379.08 316.82,379.27 317.12,382.71 317.41,376.50 317.71,379.69 318.01,377.31 318.30,378.37 318.60,373.94 318.90,374.59 319.19,374.13 319.49,373.63 319.79,375.77 320.08,379.30 320.38,373.44 320.68,377.92 320.97,375.69 321.27,376.84 321.57,374.99 321.86,377.81 322.16,380.02 322.46,376.57 322.75,377.41 323.05,377.14 323.35,376.08 323.64,373.76 323.94,375.86 324.23,374.70 324.53,372.52 324.83,378.30 325.12,373.87 325.42,377.04 325.72,371.41 326.01,368.41 326.31,371.52 326.61,378.80 326.90,370.58 327.20,373.01 327.50,375.74 327.79,372.73 328.09,372.56 328.39,378.16 328.68,372.86 328.98,373.06 329.28,366.92 329.57,375.19 329.87,373.72 330.17,368.98 330.46,368.58 330.76,371.64 331.06,370.46 331.35,371.10 331.65,373.52 331.95,367.55 332.24,371.24 332.54,372.23 332.83,360.80 333.13,373.96 333.43,367.87 333.72,378.47 334.02,365.11 334.32,365.30 334.61,372.85 334.91,374.47 335.21,378.32 335.50,376.48 335.80,377.83 336.10,372.35 336.39,383.63 336.69,376.34 336.99,364.50 337.28,367.57 337.58,367.36 337.88,370.87 338.17,368.45 338.47,373.40 338.77,377.59 339.06,363.08 339.36,365.98 339.66,378.58 339.95,381.36 340.25,383.17 340.55,375.09 340.84,378.83 341.14,376.22 341.43,367.48 341.73,369.35 342.03,371.25 342.32,366.48 342.62,362.97 342.92,364.12 343.21,370.74 343.51,369.20 343.81,365.34 344.10,374.17 344.40,363.85 344.70,364.81 344.99,370.33 345.29,372.91 345.59,374.53 345.88,366.55 346.18,386.72 346.48,377.53 346.77,374.93 347.07,367.57 347.37,367.34 347.66,369.74 347.96,364.91 348.26,372.53 348.55,371.89 348.85,365.74 349.15,362.27 349.44,369.70 349.74,377.61 350.03,365.60 350.33,366.76 350.63,361.82 350.92,362.32 351.22,375.92 351.52,370.82 351.81,383.78 352.11,368.23 352.41,362.87 352.70,372.50 353.00,375.84 353.30,377.04 353.59,373.66 353.89,365.60 354.19,375.71 354.48,365.11 354.78,383.36 355.08,371.61 355.37,375.19 355.67,375.97 355.97,384.20 356.26,384.87 356.56,375.51 356.86,375.61 357.15,368.85 357.45,377.19 357.74,357.97 358.04,374.12 358.34,371.20 358.63,363.63 358.93,369.00 359.23,367.79 359.52,374.92 359.82,375.90 360.12,370.28 360.41,373.10 360.71,366.09 361.01,378.22 361.30,368.63 361.60,370.82 361.90,365.29 362.19,368.87 362.49,373.32 362.79,365.43 363.08,370.15 363.38,365.54 363.68,374.83 363.97,375.76 364.27,370.26 364.57,368.94 364.86,366.21 365.16,378.88 365.46,384.66 365.75,376.90 366.05,373.89 366.34,366.38 366.64,359.95 366.94,367.53 367.23,362.82 367.53,377.33 367.83,381.80 368.12,379.55 368.42,377.22 368.72,374.51 369.01,376.74 369.31,372.45 369.61,378.64 369.90,373.60 370.20,371.41 370.50,373.52 370.79,367.05 371.09,377.05 371.39,377.02 371.68,371.45 371.98,378.53 372.28,376.11 372.57,376.93 372.87,374.73 373.17,374.54 373.46,375.08 373.76,380.23 374.06,376.18 374.35,374.46 374.65,378.42 374.94,371.19 375.24,378.75 375.54,379.17 375.83,375.83 376.13,384.08 376.43,383.83 376.72,382.86 377.02,384.17 377.32,382.87 377.61,374.60 377.91,377.59 378.21,377.11 378.50,375.68 378.80,373.99 379.10,385.40 379.39,372.93 379.69,379.84 379.99,379.29 380.28,384.32 380.58,369.47 380.88,370.25 381.17,369.24 381.47,372.22 381.77,369.61 382.06,368.39 382.36,378.18 382.65,379.48 382.95,380.95 383.25,380.75 383.54,381.67 383.84,379.62 384.14,388.11 384.43,374.50 384.73,378.68 385.03,380.05 385.32,382.01 385.62,386.79 385.92,379.08 386.21,381.28 386.51,389.95 386.81,384.17 387.10,388.30 387.40,377.47 387.70,372.29 387.99,374.88 388.29,373.89 388.59,380.84 388.88,377.53 389.18,384.63 389.48,387.71 389.77,382.99 390.07,379.16 390.37,377.58 390.66,377.52 390.96,377.77 391.25,370.79 391.55,370.70 391.85,385.28 392.14,374.32 392.44,381.57 392.74,378.88 393.03,386.93 393.33,380.91 393.63,385.55 393.92,387.72 394.22,381.43 394.52,384.12 394.81,372.94 395.11,376.79 395.41,383.92 395.70,384.05 396.00,383.64 396.30,380.85 396.59,377.93 396.89,383.16 397.19,381.36 397.48,380.28 397.78,384.04 398.08,377.72 398.37,389.38 398.67,381.83 398.97,390.84 399.26,385.37 399.56,384.16 399.85,386.62 400.15,390.64 400.45,388.37 400.74,386.61 401.04,381.68 401.34,376.99 401.63,375.24 401.93,376.50 402.23,379.18 402.52,370.01 402.82,377.34 403.12,376.99 403.41,377.43 403.71,373.87 404.01,376.13 404.30,378.81 404.60,373.09 404.90,374.71 405.19,377.36 405.49,379.21 405.79,373.58 406.08,383.29 406.38,372.86 406.68,388.69 406.97,374.70 407.27,375.86 407.57,377.51 407.86,372.48 408.16,374.67 408.45,370.40 408.75,379.21 409.05,373.89 409.34,379.54 409.64,378.16 409.94,385.61 410.23,386.73 410.53,382.80 410.83,387.82 411.12,387.55 411.42,382.77 411.72,370.24 412.01,375.83 412.31,375.45 412.61,377.07 412.90,383.04 413.20,381.45 413.50,371.87 413.79,376.90 414.09,385.52 414.39,385.31 414.68,383.44 414.98,374.89 415.28,379.10 415.57,382.79 415.87,380.09 416.16,382.53 416.46,385.82 416.76,390.67 417.05,391.56 417.35,393.84 417.65,386.44 417.94,386.52 418.24,378.49 418.54,386.65 418.83,378.51 419.13,386.04 419.43,378.41 419.72,381.81 420.02,385.02 420.32,384.51 420.61,376.39 420.91,385.66 421.21,386.55 421.50,394.68 421.80,390.01 422.10,390.30 422.39,385.86 422.69,388.64 422.99,383.15 423.28,378.32 423.58,382.06 423.88,387.17 424.17,382.40 424.47,383.34 424.76,380.42 425.06,384.66 425.36,366.10 425.65,372.01 425.95,379.21 426.25,378.87 426.54,390.61 426.84,386.76 427.14,382.86 427.43,378.03 427.73,380.97 428.03,380.51 428.32,375.62 428.62,378.81 428.92,385.00 429.21,384.44 429.51,382.97 429.81,387.84 430.10,373.51 430.40,375.35 430.70,381.67 430.99,385.32 431.29,378.36 431.59,384.43 431.88,382.40 432.18,377.87 432.48,378.62 432.77,371.94 433.07,378.57 433.36,376.93 433.66,374.86 433.96,382.43 434.25,385.82 434.55,377.30 434.85,370.83 435.14,373.04 435.44,377.44 435.74,368.41 436.03,370.18 436.33,383.09 436.63,375.36 436.92,375.99 437.22,372.92 437.52,369.87 437.81,375.42 438.11,375.98 438.41,382.76 438.70,377.24 439.00,377.11 439.30,374.20 439.59,371.42 439.89,375.28 440.19,381.33 440.48,373.85 440.78,379.02 441.07,378.48 441.37,380.41 441.67,387.30 441.96,372.91 442.26,371.80 442.56,372.78 442.85,384.52 443.15,383.42 443.45,375.77 443.74,379.08 444.04,380.55 444.34,377.87 444.63,375.54 444.93,383.87 445.23,378.91 445.52,385.76 445.82,382.25 446.12,379.41 446.41,370.91 446.71,374.48 447.01,384.18 447.30,380.47 447.60,371.66 447.90,378.85 448.19,370.77 448.49,382.82 448.79,376.24 449.08,385.12 449.38,381.86 449.67,378.99 449.97,370.56 450.27,376.71 450.56,374.08 450.86,376.35 451.16,372.81 451.45,375.28 451.75,380.41 452.05,381.16 452.34,368.86 452.64,376.55 452.94,378.04 453.23,386.76 453.53,374.98 453.83,379.55 454.12,377.31 454.42,381.45 454.72,376.58 455.01,374.59 455.31,379.52 455.61,380.27 455.90,374.87 456.20,374.28 456.50,374.66 456.79,376.28 457.09,382.39 457.39,377.26 457.68,387.92 457.98,375.06 458.27,378.51 458.57,372.29 458.87,376.82 459.16,386.63 459.46,374.95 459.76,385.31 460.05,375.67 460.35,384.85 460.65,394.96 460.94,387.82 461.24,380.93 461.54,386.07 461.83,386.55 462.13,378.30 462.43,389.37 462.72,385.93 463.02,379.49 463.32,386.55 463.61,385.26 463.91,375.63 464.21,387.77 464.50,382.03 464.80,365.43 465.10,376.91 465.39,370.16 465.69,375.86 465.99,375.26 466.28,372.61 466.58,379.34 466.87,384.72 467.17,370.21 467.47,379.34 467.76,376.48 468.06,381.23 468.36,370.99 468.65,378.25 468.95,376.54 469.25,382.66 469.54,380.73 469.84,377.25 470.14,382.92 470.43,386.92 470.73,386.68 471.03,390.99 471.32,381.01 471.62,382.91 471.92,382.86 472.21,383.72 472.51,375.05 472.81,376.41 473.10,377.33 473.40,375.53 473.70,376.88 473.99,386.01 474.29,382.51 474.58,383.99 474.88,385.57 475.18,377.53 475.47,380.72 475.77,377.83 476.07,378.97 476.36,385.61 476.66,373.45 476.96,384.56 477.25,376.56 477.55,383.98 477.85,391.61 478.14,386.84 478.44,373.12 478.74,377.60 479.03,382.61 479.33,372.96 479.63,375.69 479.92,383.47 480.22,377.13 480.52,377.89 480.81,384.19 481.11,387.66 481.41,379.42 481.70,379.60 482.00,374.55 482.30,374.41 482.59,378.37 482.89,374.63 483.18,377.91 483.48,378.53 483.78,378.70 484.07,377.68 484.37,382.71 484.67,383.05 484.96,388.95 485.26,381.19 485.56,387.40 485.85,380.26 486.15,390.29 486.45,377.66 486.74,365.98 487.04,379.01 487.34,377.48 487.63,379.28 487.93,386.19 488.23,386.29 488.52,380.33 488.82,377.97 489.12,380.34 489.41,376.00 489.71,377.84 490.01,378.64 490.30,385.93 490.60,388.70 490.90,386.36 491.19,389.84 491.49,380.14 491.78,379.65 492.08,381.34 492.38,375.23 492.67,385.25 492.97,378.97 493.27,380.03 493.56,382.11 493.86,370.81 494.16,377.99 494.45,374.08 494.75,369.71 495.05,378.31 495.34,382.88 495.64,368.16 495.94,377.50 496.23,368.23 496.53,376.05 496.83,377.88 497.12,384.44 497.42,377.86 497.72,377.61 498.01,379.95 498.31,381.63 498.61,378.85 498.90,380.73 499.20,382.85 499.49,380.06 499.79,385.28 500.09,382.24 500.38,385.29 500.68,386.79 500.98,378.71 501.27,379.84 501.57,383.04 501.87,380.42 502.16,380.31 502.46,379.76 502.76,379.26 503.05,382.87 503.35,369.76 503.65,382.52 503.94,375.38 504.24,386.34 504.54,379.06 504.83,380.44 505.13,379.88 505.43,379.88 505.72,378.55 506.02,383.10 506.32,389.58 506.61,383.10 506.91,383.52 507.21,383.46 507.50,386.91 507.80,384.49 508.09,387.91 508.39,376.62 508.69,375.56 508.98,383.05 509.28,385.25 509.58,384.01 509.87,387.85 510.17,384.28 510.47,379.42 510.76,381.07 511.06,384.69 511.36,383.34 511.65,385.21 511.95,379.60 512.25,377.71 512.54,378.09 512.84,380.59 513.14,382.10 513.43,379.02 513.73,382.25 514.03,379.75 514.32,380.70 514.62,386.44 514.92,392.06 515.21,382.19 515.51,377.66 515.81,375.90 516.10,385.82 516.40,374.42 516.69,381.09 516.99,383.86 517.29,368.59 517.58,377.88 517.88,380.43 518.18,380.79 518.47,383.23 518.77,374.99 519.07,382.94 519.36,375.21 519.66,377.17 519.96,379.26 520.25,381.06 520.55,378.80 520.85,381.44 521.14,370.44 521.44,378.65 521.74,379.40 522.03,380.62 522.33,382.61 522.63,386.03 522.92,385.86 523.22,373.42 523.52,384.94 523.81,374.72 524.11,380.40 524.41,382.88 524.70,379.77 525.00,370.49 525.29,376.85 525.59,381.60 525.89,379.32 526.18,384.58 526.48,383.14 526.78,386.09 527.07,388.05 527.37,393.73 527.67,385.43 527.96,387.98 528.26,381.34 528.56,384.20 528.85,373.72 529.15,380.18 529.45,380.73 529.74,372.16 530.04,380.94 530.34,381.63 530.63,386.04 530.93,384.81 531.23,383.93 531.52,381.51 531.82,385.54 532.12,386.38 532.41,377.85 532.71,375.87 533.00,367.07 533.30,377.41 533.60,383.92 533.89,386.99 534.19,373.31 534.49,379.04 534.78,372.05 535.08,383.83 535.38,373.47 535.67,371.97 535.97,384.83 536.27,378.78 536.56,382.18 536.86,374.40 537.16,389.60 537.45,374.77 537.75,378.36 538.05,379.01 538.34,383.58 538.64,377.48 538.94,381.90 539.23,384.17 539.53,391.66 539.83,389.70 540.12,378.81 540.42,382.75 540.72,380.27 541.01,373.49 541.31,376.07 541.60,378.21 541.90,376.44 542.20,377.38 542.49,381.79 542.79,380.26 543.09,378.39 543.38,374.55 543.68,378.55 543.98,385.14 544.27,384.03 544.57,375.36 544.87,384.23 545.16,381.13 545.46,377.70 545.76,382.07 546.05,379.86 546.35,381.68 546.65,388.58 546.94,384.75 547.24,387.46 547.54,381.04 547.83,388.91 548.13,378.30 548.43,384.92 548.72,378.31 549.02,386.36 549.32,384.07 549.61,377.07 549.91,378.89 550.20,381.83 550.50,375.32 550.80,377.28 551.09,381.56 551.39,369.72 551.69,367.84 551.98,377.06 552.28,374.80 552.58,371.33 552.87,377.75 553.17,384.24 553.47,381.94 553.76,372.71 554.06,380.34 554.36,375.10 554.65,372.32 554.95,380.90 555.25,384.42 555.54,381.88 555.84,379.43 556.14,386.01 556.43,384.57 556.73,377.50 557.03,369.87 557.32,373.38 557.62,387.48 557.92,376.72 558.21,380.19 558.51,382.67 558.80,379.70 559.10,383.71 559.40,382.19 559.69,376.40 559.99,381.44 560.29,381.67 560.58,386.50 560.88,388.03 561.18,373.75 561.47,377.84 561.77,381.78 562.07,385.09 562.36,377.40 562.66,376.55 562.96,392.41 563.25,385.86 563.55,383.08 563.85,379.89 564.14,376.68 564.44,381.94 564.74,369.19 565.03,385.40 565.33,387.30 565.63,383.34 565.92,384.92 566.22,376.95 566.51,382.22 566.81,380.66 567.11,377.08 567.40,380.72 567.70,380.28 568.00,383.11 568.29,380.94 568.59,377.96 568.89,380.16 569.18,377.24 569.48,384.58 569.78,381.39 570.07,379.60 570.37,383.42 570.67,381.74 570.96,376.34 571.26,371.52 571.56,376.30 571.85,397.82 572.15,380.52 572.45,383.57 572.74,379.39 573.04,382.97 573.34,377.76 573.63,381.49 573.93,381.08 574.23,381.58 574.52,392.99 574.82,384.30 575.11,383.01 575.41,382.36 575.71,378.77 576.00,378.33 576.30,385.94 576.60,379.71 576.89,378.49 577.19,378.14 577.49,380.08 577.78,368.16 578.08,380.54 578.38,379.61 578.67,389.82 578.97,383.42 579.27,374.16 579.56,391.34 579.86,381.86 580.16,373.77 580.45,380.11 580.75,374.03 581.05,386.85 581.34,374.18 581.64,376.25 581.94,378.53 582.23,381.27 582.53,385.09 582.83,380.61 583.12,379.11 583.42,377.54 583.71,381.47 584.01,382.07 584.31,367.25 584.60,378.27 584.90,385.76 585.20,383.12 585.49,380.83 585.79,384.84 586.09,385.67 586.38,380.03 586.68,375.48 586.98,386.54 587.27,395.18 587.57,387.68 587.87,386.45 588.16,378.67 588.46,381.76 588.76,386.31 589.05,384.94 589.35,382.67 589.65,373.84 589.94,380.36 590.24,383.49 590.54,391.81 590.83,380.00 591.13,378.32 591.42,383.50 591.72,376.70 592.02,377.55 592.31,382.45 592.61,385.50 592.91,388.31 593.20,390.06 593.50,388.28 593.80,383.70 594.09,383.06 594.39,383.56 594.69,377.01 594.98,375.20 595.28,382.17 595.58,371.93 595.87,387.72 596.17,382.32 596.47,377.68 596.76,378.18 597.06,378.98 597.36,385.73 597.65,379.20 597.95,384.47 598.25,382.93 598.54,384.40 598.84,387.75 599.14,379.67 599.43,393.28 599.73,384.47 600.02,384.00 600.32,380.32 600.62,384.56 600.91,380.50 601.21,378.69 601.51,379.17 601.80,388.60 602.10,383.07 602.40,384.51 602.69,380.48 602.99,373.64 603.29,376.70 603.58,375.52 603.88,383.23 604.18,385.57 604.47,393.20 604.77,380.26 605.07,389.69 605.36,383.15 605.66,384.04 605.96,377.55 606.25,390.61 606.55,382.74 606.85,384.14 607.14,390.03 607.44,382.31 607.74,380.42 608.03,383.04 608.33,379.74 608.62,377.10 608.92,385.98 609.22,383.78 609.51,374.91 609.81,381.50 610.11,374.98 610.40,374.20 610.70,380.37 611.00,383.39 611.29,382.02 611.59,382.04 611.89,386.95 612.18,389.00 612.48,388.03 612.78,378.63 613.07,380.33 613.37,366.97 613.67,369.80 613.96,377.97 614.26,382.93 614.56,386.37 614.85,383.01 615.15,389.00 615.45,392.28 615.74,384.34 616.04,386.07 616.34,386.90 616.63,379.10 616.93,382.80 617.22,378.78 617.52,375.03 617.82,377.08 618.11,385.61 618.41,377.40 618.71,382.27 619.00,381.76 619.30,383.54 619.60,378.45 619.89,370.86 620.19,380.54 620.49,382.84 620.78,385.61 621.08,386.80 621.38,385.68 621.67,374.56 621.97,378.35 622.27,381.45 622.56,381.77 622.86,381.66 623.16,381.92 623.45,375.36 623.75,380.62 624.05,378.35 624.34,380.87 624.64,386.94 624.93,377.40 625.23,385.54 625.53,381.63 625.82,383.41 626.12,379.87 626.42,380.92 626.71,382.07 627.01,371.64 627.31,388.08 627.60,385.87 627.90,388.33 628.20,383.28 628.49,384.48 628.79,377.33 629.09,380.16 629.38,375.32 629.68,385.98 629.98,378.36 630.27,382.73 630.57,379.53 630.87,384.39 631.16,382.14 631.46,374.74 631.76,371.84 632.05,377.96 632.35,380.17 632.65,376.64 632.94,385.64 633.24,385.27 633.53,384.79 633.83,386.49 634.13,385.29 634.42,378.65 634.72,382.82 635.02,372.38 635.31,380.53 635.61,382.41 635.91,369.81 636.20,386.48 636.50,375.56 636.80,387.12 637.09,381.49 637.39,380.90 637.69,376.14 637.98,381.59 638.28,385.22 638.58,385.04 638.87,391.64 639.17,386.98 639.47,382.45 639.76,374.58 640.06,382.39 640.36,385.97 640.65,383.96 640.95,383.06 641.25,380.64 641.54,382.91 641.84,377.65 642.13,384.76 642.43,379.47 642.73,376.57 643.02,383.08 643.32,381.36 643.62,379.65 643.91,372.32 644.21,377.47 644.51,382.44 644.80,380.73 645.10,381.99 645.40,383.83 645.69,379.96 645.99,383.57 646.29,372.10 646.58,376.45 646.88,375.73 647.18,372.94 647.47,385.82 647.77,379.87 648.07,379.33 648.36,377.91 648.66,374.71 648.96,380.18 649.25,375.13 649.55,381.63 649.84,381.06 650.14,378.61 650.44,383.74 650.73,387.58 651.03,384.90 651.33,388.09 651.62,379.22 651.92,388.24 652.22,372.12 652.51,381.79 652.81,384.15 653.11,387.30 653.40,387.99 653.70,383.58 654.00,380.32 654.29,382.64 654.59,379.03 654.89,373.81 655.18,392.92 655.48,383.85 655.78,392.01 656.07,386.35 656.37,382.98 656.67,384.23 656.96,382.51 657.26,378.70 657.56,376.87 657.85,373.97 658.15,379.30 658.44,380.18 658.74,383.17 659.04,378.08 659.33,385.93 659.63,389.78 659.93,375.14 660.22,378.90 660.52,383.80 660.82,378.52 661.11,386.24 661.41,380.24 661.71,368.80 662.00,384.18 662.30,376.59"/>
<text x="69.5" y="27" font-size="16.5" letter-spacing="0.15" fill="#111">Alibag (ABG)</text>
<text x="660.3" y="27" font-size="16.5" letter-spacing="0.2" fill="#111" text-anchor="end">2009/06/23</text>
<text transform="translate(44.9,122.2) scale(1.1,1)" font-size="18" fill="#ffb400" stroke="#ffb400" stroke-width="0.12" text-anchor="middle">F</text>
<text x="63.4" y="139.8" font-size="12" fill="#ffb400" text-anchor="end">0nT</text>
<text transform="translate(44.9,208.8) scale(1.1,1)" font-size="18" fill="#00ff30" stroke="#00ff30" stroke-width="0.12" text-anchor="middle">H</text>
<text x="63.4" y="225.9" font-size="12" fill="#00ff30" text-anchor="end">37830nT</text>
<text transform="translate(44.9,295.3) scale(1.1,1)" font-size="18" fill="#0000ff" stroke="#0000ff" stroke-width="0.12" text-anchor="middle">E</text>
<text x="63.4" y="312.6" font-size="12" fill="#0000ff" text-anchor="end">270nT</text>
<text transform="translate(44.9,381.9) scale(1.1,1)" font-size="18" fill="#ff0000" stroke="#ff0000" stroke-width="0.12" text-anchor="middle">Z</text>
<text x="63.4" y="398.9" font-size="12" fill="#ff0000" text-anchor="end">18620nT</text>
<text x="69.50" y="486" font-size="14" fill="#000" text-anchor="middle">0</text>
<text x="143.62" y="486" font-size="14" fill="#000" text-anchor="middle">3</text>
<text x="217.75" y="486" font-size="14" fill="#000" text-anchor="middle">6</text>
<text x="291.88" y="486" font-size="14" fill="#000" text-anchor="middle">9</text>
<text x="366.00" y="486" font-size="14" fill="#000" text-anchor="middle">12</text>
<text x="440.12" y="486" font-size="14" fill="#000" text-anchor="middle">15</text>
<text x="514.25" y="486" font-size="14" fill="#000" text-anchor="middle">18</text>
<text x="588.38" y="486" font-size="14" fill="#000" text-anchor="middle">21</text>
<text x="662.50" y="486" font-size="14" fill="#000" text-anchor="middle">24</text>
<text x="366" y="502" font-size="14" letter-spacing="0.2" fill="#000" text-anchor="middle">U T (hour)</text>
<text transform="translate(692,444.2) rotate(-90)" font-size="12" fill="#000">100 nT</text>
<text transform="translate(723.8,467.5) rotate(-90)" font-size="9.5" fill="#000">Plotted at 2009/07/24 00:57 UT</text>
</svg></body></html>
